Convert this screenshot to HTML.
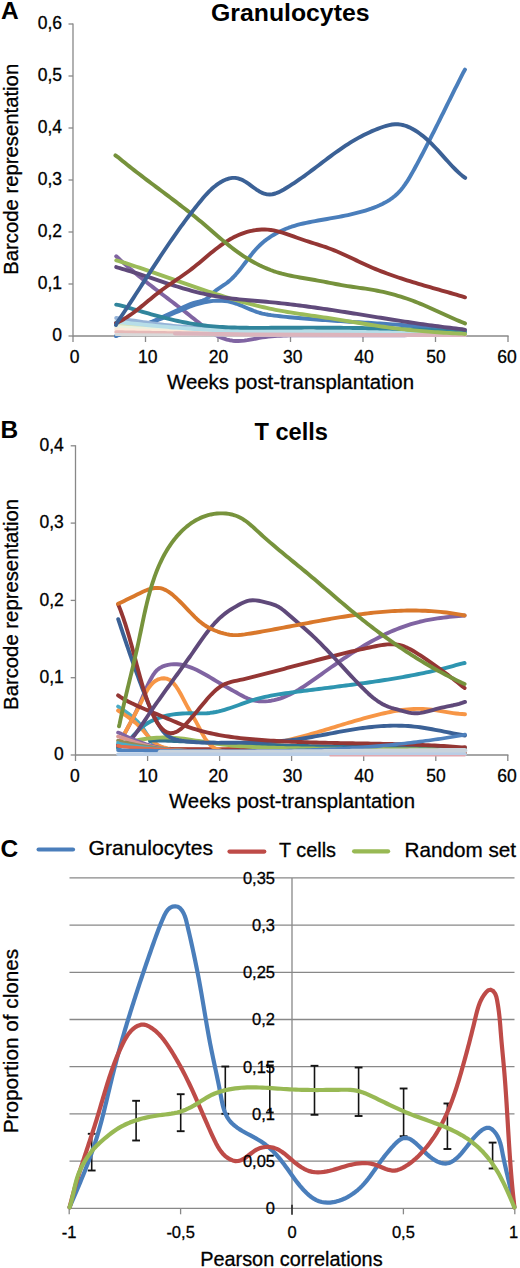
<!DOCTYPE html>
<html><head><meta charset="utf-8"><style>
html,body{margin:0;padding:0;background:#fff;}
svg{display:block;}
text{font-family:"Liberation Sans", sans-serif; fill:#000;}
text.r{stroke:#000;stroke-width:0.3px;}
</style></head><body>
<svg width="520" height="1268" viewBox="0 0 520 1268">
<rect width="520" height="1268" fill="#fff"/>
<text x="1.0" y="19.4" font-size="24.5" text-anchor="start" font-weight="bold">A</text>
<text x="211.0" y="21.0" font-size="23.5" text-anchor="start" font-weight="bold" textLength="158.5" lengthAdjust="spacingAndGlyphs">Granulocytes</text>
<line x1="73.0" y1="23.4" x2="73.0" y2="336.6" stroke="#888888" stroke-width="1.30"/>
<line x1="68.5" y1="336.0" x2="73.0" y2="336.0" stroke="#888888" stroke-width="1.30"/>
<text class="r" x="62.0" y="341.1" font-size="17.5" text-anchor="end" font-weight="normal">0</text>
<line x1="68.5" y1="284.0" x2="73.0" y2="284.0" stroke="#888888" stroke-width="1.30"/>
<text class="r" x="62.0" y="289.1" font-size="17.5" text-anchor="end" font-weight="normal">0,1</text>
<line x1="68.5" y1="232.0" x2="73.0" y2="232.0" stroke="#888888" stroke-width="1.30"/>
<text class="r" x="62.0" y="237.1" font-size="17.5" text-anchor="end" font-weight="normal">0,2</text>
<line x1="68.5" y1="180.0" x2="73.0" y2="180.0" stroke="#888888" stroke-width="1.30"/>
<text class="r" x="62.0" y="185.1" font-size="17.5" text-anchor="end" font-weight="normal">0,3</text>
<line x1="68.5" y1="128.0" x2="73.0" y2="128.0" stroke="#888888" stroke-width="1.30"/>
<text class="r" x="62.0" y="133.1" font-size="17.5" text-anchor="end" font-weight="normal">0,4</text>
<line x1="68.5" y1="76.0" x2="73.0" y2="76.0" stroke="#888888" stroke-width="1.30"/>
<text class="r" x="62.0" y="81.1" font-size="17.5" text-anchor="end" font-weight="normal">0,5</text>
<line x1="68.5" y1="24.0" x2="73.0" y2="24.0" stroke="#888888" stroke-width="1.30"/>
<text class="r" x="62.0" y="29.1" font-size="17.5" text-anchor="end" font-weight="normal">0,6</text>
<line x1="73.0" y1="336.0" x2="508.6" y2="336.0" stroke="#888888" stroke-width="1.30"/>
<line x1="73.0" y1="336.0" x2="73.0" y2="342.0" stroke="#888888" stroke-width="1.30"/>
<text class="r" x="74.5" y="362.7" font-size="17.5" text-anchor="middle" font-weight="normal">0</text>
<line x1="145.5" y1="336.0" x2="145.5" y2="342.0" stroke="#888888" stroke-width="1.30"/>
<text class="r" x="147.7" y="362.7" font-size="17.5" text-anchor="middle" font-weight="normal">10</text>
<line x1="218.0" y1="336.0" x2="218.0" y2="342.0" stroke="#888888" stroke-width="1.30"/>
<text class="r" x="218.5" y="362.7" font-size="17.5" text-anchor="middle" font-weight="normal">20</text>
<line x1="290.5" y1="336.0" x2="290.5" y2="342.0" stroke="#888888" stroke-width="1.30"/>
<text class="r" x="292.7" y="362.7" font-size="17.5" text-anchor="middle" font-weight="normal">30</text>
<line x1="363.0" y1="336.0" x2="363.0" y2="342.0" stroke="#888888" stroke-width="1.30"/>
<text class="r" x="364.0" y="362.7" font-size="17.5" text-anchor="middle" font-weight="normal">40</text>
<line x1="435.5" y1="336.0" x2="435.5" y2="342.0" stroke="#888888" stroke-width="1.30"/>
<text class="r" x="435.9" y="362.7" font-size="17.5" text-anchor="middle" font-weight="normal">50</text>
<line x1="508.0" y1="336.0" x2="508.0" y2="342.0" stroke="#888888" stroke-width="1.30"/>
<text class="r" x="507.0" y="362.7" font-size="17.5" text-anchor="middle" font-weight="normal">60</text>
<text class="r" x="290.5" y="388.5" font-size="20.5" text-anchor="middle" font-weight="normal" textLength="247.0" lengthAdjust="spacingAndGlyphs">Weeks post-transplantation</text>
<text class="r" transform="translate(17.6,169.3) rotate(-90)" font-size="20" text-anchor="middle" textLength="211" lengthAdjust="spacingAndGlyphs">Barcode representation</text>
<text x="0.5" y="437.7" font-size="24.5" text-anchor="start" font-weight="bold">B</text>
<text x="254.5" y="439.6" font-size="23.5" text-anchor="start" font-weight="bold" textLength="73.5" lengthAdjust="spacingAndGlyphs">T cells</text>
<line x1="75.5" y1="445.2" x2="75.5" y2="755.6" stroke="#888888" stroke-width="1.30"/>
<line x1="70.7" y1="755.0" x2="75.5" y2="755.0" stroke="#888888" stroke-width="1.30"/>
<text class="r" x="63.8" y="760.3" font-size="17.5" text-anchor="end" font-weight="normal">0</text>
<line x1="70.7" y1="677.7" x2="75.5" y2="677.7" stroke="#888888" stroke-width="1.30"/>
<text class="r" x="63.8" y="683.0" font-size="17.5" text-anchor="end" font-weight="normal">0,1</text>
<line x1="70.7" y1="600.4" x2="75.5" y2="600.4" stroke="#888888" stroke-width="1.30"/>
<text class="r" x="63.8" y="605.7" font-size="17.5" text-anchor="end" font-weight="normal">0,2</text>
<line x1="70.7" y1="523.1" x2="75.5" y2="523.1" stroke="#888888" stroke-width="1.30"/>
<text class="r" x="63.8" y="528.4" font-size="17.5" text-anchor="end" font-weight="normal">0,3</text>
<line x1="70.7" y1="445.8" x2="75.5" y2="445.8" stroke="#888888" stroke-width="1.30"/>
<text class="r" x="63.8" y="451.1" font-size="17.5" text-anchor="end" font-weight="normal">0,4</text>
<line x1="75.5" y1="755.0" x2="508.4" y2="755.0" stroke="#888888" stroke-width="1.30"/>
<line x1="75.5" y1="755.0" x2="75.5" y2="761.0" stroke="#888888" stroke-width="1.30"/>
<text class="r" x="74.9" y="782.0" font-size="17.5" text-anchor="middle" font-weight="normal">0</text>
<line x1="147.6" y1="755.0" x2="147.6" y2="761.0" stroke="#888888" stroke-width="1.30"/>
<text class="r" x="148.0" y="782.0" font-size="17.5" text-anchor="middle" font-weight="normal">10</text>
<line x1="219.6" y1="755.0" x2="219.6" y2="761.0" stroke="#888888" stroke-width="1.30"/>
<text class="r" x="218.3" y="782.0" font-size="17.5" text-anchor="middle" font-weight="normal">20</text>
<line x1="291.6" y1="755.0" x2="291.6" y2="761.0" stroke="#888888" stroke-width="1.30"/>
<text class="r" x="292.6" y="782.0" font-size="17.5" text-anchor="middle" font-weight="normal">30</text>
<line x1="363.7" y1="755.0" x2="363.7" y2="761.0" stroke="#888888" stroke-width="1.30"/>
<text class="r" x="364.0" y="782.0" font-size="17.5" text-anchor="middle" font-weight="normal">40</text>
<line x1="435.8" y1="755.0" x2="435.8" y2="761.0" stroke="#888888" stroke-width="1.30"/>
<text class="r" x="436.0" y="782.0" font-size="17.5" text-anchor="middle" font-weight="normal">50</text>
<line x1="507.8" y1="755.0" x2="507.8" y2="761.0" stroke="#888888" stroke-width="1.30"/>
<text class="r" x="507.0" y="782.0" font-size="17.5" text-anchor="middle" font-weight="normal">60</text>
<text class="r" x="292.0" y="807.5" font-size="20.5" text-anchor="middle" font-weight="normal" textLength="246.0" lengthAdjust="spacingAndGlyphs">Weeks post-transplantation</text>
<text class="r" transform="translate(17.6,604.4) rotate(-90)" font-size="20" text-anchor="middle" textLength="211" lengthAdjust="spacingAndGlyphs">Barcode representation</text>
<text x="0.5" y="857.0" font-size="24.5" text-anchor="start" font-weight="bold">C</text>
<line x1="38.6" y1="849.5" x2="73" y2="849.5" stroke="#4a7ebb" stroke-width="4.2" stroke-linecap="round"/>
<text class="r" x="88.5" y="854.6" font-size="21.0" text-anchor="start" font-weight="normal" textLength="124.5" lengthAdjust="spacingAndGlyphs">Granulocytes</text>
<line x1="229.5" y1="851.6" x2="264.3" y2="851.6" stroke="#be4b48" stroke-width="4.2" stroke-linecap="round"/>
<text class="r" x="279.0" y="856.9" font-size="21.0" text-anchor="start" font-weight="normal" textLength="57.0" lengthAdjust="spacingAndGlyphs">T cells</text>
<line x1="354.1" y1="851.3" x2="388.1" y2="851.3" stroke="#98b954" stroke-width="4.2" stroke-linecap="round"/>
<text class="r" x="404.5" y="856.9" font-size="21.0" text-anchor="start" font-weight="normal" textLength="111.5" lengthAdjust="spacingAndGlyphs">Random set</text>
<line x1="69.5" y1="1161.1" x2="514.5" y2="1161.1" stroke="#888888" stroke-width="1.30"/>
<line x1="69.5" y1="1113.9" x2="514.5" y2="1113.9" stroke="#888888" stroke-width="1.30"/>
<line x1="69.5" y1="1066.7" x2="514.5" y2="1066.7" stroke="#888888" stroke-width="1.30"/>
<line x1="69.5" y1="1019.5" x2="514.5" y2="1019.5" stroke="#888888" stroke-width="1.30"/>
<line x1="69.5" y1="972.3" x2="514.5" y2="972.3" stroke="#888888" stroke-width="1.30"/>
<line x1="69.5" y1="925.1" x2="514.5" y2="925.1" stroke="#888888" stroke-width="1.30"/>
<line x1="69.5" y1="877.9" x2="514.5" y2="877.9" stroke="#888888" stroke-width="1.30"/>
<line x1="69.2" y1="1208.3" x2="514.7" y2="1208.3" stroke="#888888" stroke-width="1.30"/>
<line x1="292.0" y1="877.9" x2="292.0" y2="1208.3" stroke="#888888" stroke-width="1.30"/>
<line x1="69.2" y1="1208.3" x2="69.2" y2="1214.3" stroke="#888888" stroke-width="1.30"/>
<line x1="180.6" y1="1208.3" x2="180.6" y2="1214.3" stroke="#888888" stroke-width="1.30"/>
<line x1="403.4" y1="1208.3" x2="403.4" y2="1214.3" stroke="#888888" stroke-width="1.30"/>
<line x1="514.8" y1="1208.3" x2="514.8" y2="1214.3" stroke="#888888" stroke-width="1.30"/>
<line x1="292.0" y1="1204.8" x2="292.0" y2="1214.8" stroke="#222" stroke-width="1.60"/>
<text class="r" x="69.2" y="1237.5" font-size="16.5" text-anchor="middle" font-weight="normal">-1</text>
<text class="r" x="180.6" y="1237.5" font-size="16.5" text-anchor="middle" font-weight="normal">-0,5</text>
<text class="r" x="292.0" y="1237.5" font-size="16.5" text-anchor="middle" font-weight="normal">0</text>
<text class="r" x="403.4" y="1237.5" font-size="16.5" text-anchor="middle" font-weight="normal">0,5</text>
<text class="r" x="513.5" y="1237.5" font-size="16.5" text-anchor="middle" font-weight="normal">1</text>
<text class="r" x="291.4" y="1265.8" font-size="20.5" text-anchor="middle" font-weight="normal" textLength="182.5" lengthAdjust="spacingAndGlyphs">Pearson correlations</text>
<text class="r" transform="translate(17.6,1041) rotate(-90)" font-size="20" text-anchor="middle" textLength="184.5" lengthAdjust="spacingAndGlyphs">Proportion of clones</text>
<path d="M116.20,256.20 L118.42,258.24 L120.65,260.32 L122.89,262.38 L125.15,264.41 L127.42,266.41 L129.70,268.40 L132.01,270.36 L134.32,272.31 L136.64,274.24 L138.98,276.15 L141.33,278.05 L143.69,279.94 L146.05,281.81 L148.42,283.67 L150.81,285.53 L153.19,287.37 L155.58,289.21 L157.98,291.04 L160.38,292.87 L162.78,294.70 L165.19,296.53 L167.60,298.35 L170.00,300.18 L172.41,302.01 L174.81,303.85 L177.22,305.69 L179.62,307.53 L182.01,309.39 L184.40,311.26 L186.79,313.13 L189.17,315.02 L191.54,316.92 L193.92,318.83 L196.29,320.73 L198.68,322.62 L201.08,324.51 L203.49,326.37 L205.93,328.21 L208.39,330.01 L210.88,331.77 L213.41,333.44 L215.98,335.00 L218.61,336.41 L221.30,337.65 L224.05,338.69 L226.85,339.55 L229.69,340.22 L232.58,340.69 L235.49,340.96 L238.44,341.03 L241.40,340.90 L244.38,340.59 L247.37,340.16 L250.37,339.63 L253.38,339.05 L256.39,338.47 L259.40,337.92 L262.42,337.44 L265.43,337.02 L268.44,336.66 L271.46,336.35 L274.47,336.09 L277.48,335.88 L280.49,335.71 L283.51,335.57 L286.52,335.47 L289.53,335.39 L292.55,335.34 L295.57,335.30 L298.58,335.28 L301.60,335.27 L304.62,335.26 L307.64,335.26 L310.66,335.26 L313.69,335.26 L316.71,335.26 L319.74,335.27 L322.76,335.27 L325.79,335.28 L328.82,335.29 L331.85,335.30 L334.88,335.30 L337.91,335.31 L340.93,335.32 L343.96,335.33 L346.99,335.33 L350.02,335.34 L353.05,335.34 L356.08,335.35 L359.11,335.35 L362.14,335.34 L365.16,335.34 L368.19,335.34 L371.22,335.33 L374.24,335.32 L377.27,335.31 L380.29,335.30 L383.32,335.29 L386.34,335.27 L389.37,335.26 L392.39,335.24 L395.42,335.23 L398.44,335.21 L401.47,335.20 L404.49,335.18 L407.51,335.16 L410.54,335.15 L413.56,335.13 L416.59,335.12 L419.61,335.10 L422.63,335.09 L425.66,335.07 L428.68,335.06 L431.71,335.05 L434.73,335.04 L437.76,335.03 L440.79,335.02 L443.81,335.02 L446.84,335.01 L449.86,335.01 L452.89,335.01 L455.92,335.01 L458.95,335.02 L461.98,335.02 L465.00,335.00" fill="none" stroke="#8064a2" stroke-width="3.90" stroke-linecap="round" stroke-linejoin="round"/>
<path d="M116.00,336.00 L118.81,334.77 L121.63,333.56 L124.46,332.39 L127.29,331.27 L130.12,330.18 L132.96,329.11 L135.80,328.07 L138.64,327.04 L141.48,326.01 L144.32,325.00 L147.16,323.97 L150.00,322.94 L152.83,321.90 L155.67,320.83 L158.49,319.73 L161.32,318.60 L164.14,317.44 L166.95,316.24 L169.77,315.02 L172.58,313.79 L175.40,312.56 L178.22,311.34 L181.05,310.14 L183.89,308.96 L186.74,307.82 L189.60,306.73 L192.48,305.70 L195.38,304.74 L198.29,303.85 L201.23,303.05 L204.18,302.35 L207.14,301.75 L210.12,301.27 L213.09,300.92 L216.07,300.71 L219.04,300.64 L222.01,300.73 L224.96,300.98 L227.89,301.42 L230.81,302.03 L233.70,302.83 L236.57,303.78 L239.43,304.85 L242.27,306.00 L245.10,307.20 L247.93,308.42 L250.77,309.62 L253.61,310.77 L256.48,311.82 L259.37,312.75 L262.29,313.54 L265.24,314.19 L268.21,314.73 L271.20,315.19 L274.20,315.58 L277.20,315.93 L280.21,316.27 L283.23,316.59 L286.24,316.90 L289.26,317.20 L292.27,317.49 L295.29,317.77 L298.31,318.04 L301.34,318.30 L304.36,318.56 L307.38,318.81 L310.41,319.05 L313.44,319.28 L316.47,319.51 L319.49,319.73 L322.53,319.95 L325.56,320.16 L328.59,320.36 L331.62,320.57 L334.66,320.76 L337.69,320.96 L340.73,321.15 L343.76,321.34 L346.80,321.53 L349.84,321.71 L352.87,321.90 L355.91,322.08 L358.95,322.26 L361.99,322.45 L365.02,322.63 L368.06,322.81 L371.10,323.00 L374.14,323.18 L377.18,323.37 L380.21,323.56 L383.25,323.76 L386.29,323.96 L389.33,324.16 L392.36,324.36 L395.40,324.57 L398.43,324.79 L401.47,325.01 L404.50,325.23 L407.53,325.46 L410.57,325.70 L413.60,325.95 L416.63,326.20 L419.66,326.46 L422.69,326.73 L425.71,327.01 L428.74,327.30 L431.77,327.59 L434.79,327.90 L437.81,328.22 L440.83,328.54 L443.85,328.88 L446.87,329.23 L449.88,329.60 L452.90,329.97 L455.91,330.36 L458.92,330.76 L461.93,331.18 L465.00,331.20" fill="none" stroke="#4a7ebb" stroke-width="3.90" stroke-linecap="round" stroke-linejoin="round"/>
<path d="M116.00,336.00 L118.81,334.90 L121.63,333.81 L124.45,332.72 L127.27,331.63 L130.08,330.53 L132.89,329.42 L135.70,328.31 L138.50,327.19 L141.30,326.06 L144.10,324.93 L146.89,323.78 L149.68,322.62 L152.46,321.45 L155.24,320.26 L158.01,319.07 L160.77,317.85 L163.53,316.63 L166.28,315.38 L169.03,314.12 L171.76,312.84 L174.50,311.55 L177.22,310.23 L179.93,308.89 L182.64,307.55 L185.37,306.23 L188.13,304.99 L190.94,303.88 L193.83,302.94 L196.79,302.19 L199.76,301.49 L202.64,300.66 L205.33,299.52 L207.77,297.93 L210.01,295.97 L212.17,293.83 L214.38,291.72 L216.74,289.79 L219.24,288.05 L221.80,286.40 L224.34,284.74 L226.80,282.99 L229.13,281.11 L231.36,279.12 L233.49,277.01 L235.54,274.82 L237.52,272.55 L239.45,270.22 L241.33,267.84 L243.18,265.43 L245.02,263.00 L246.85,260.56 L248.68,258.13 L250.54,255.72 L252.43,253.35 L254.37,251.03 L256.37,248.77 L258.44,246.59 L260.59,244.50 L262.83,242.51 L265.14,240.61 L267.53,238.81 L270.00,237.10 L272.53,235.48 L275.11,233.96 L277.76,232.52 L280.45,231.18 L283.19,229.93 L285.97,228.78 L288.78,227.71 L291.62,226.72 L294.50,225.82 L297.39,224.99 L300.31,224.22 L303.25,223.51 L306.21,222.85 L309.17,222.23 L312.15,221.64 L315.14,221.08 L318.13,220.54 L321.12,220.01 L324.11,219.49 L327.10,218.97 L330.09,218.44 L333.08,217.92 L336.06,217.38 L339.04,216.82 L342.01,216.25 L344.97,215.66 L347.93,215.04 L350.88,214.38 L353.82,213.70 L356.75,212.97 L359.66,212.20 L362.56,211.39 L365.45,210.52 L368.33,209.60 L371.19,208.62 L374.03,207.57 L376.84,206.46 L379.61,205.26 L382.33,203.98 L384.99,202.60 L387.58,201.12 L390.09,199.53 L392.51,197.82 L394.82,195.99 L397.02,194.02 L399.11,191.92 L401.08,189.70 L402.96,187.38 L404.75,184.95 L406.46,182.45 L408.11,179.88 L409.70,177.26 L411.24,174.60 L412.75,171.91 L414.24,169.21 L415.70,166.51 L417.16,163.81 L418.61,161.11 L420.04,158.42 L421.46,155.73 L422.87,153.04 L424.27,150.35 L425.67,147.66 L427.05,144.98 L428.43,142.29 L429.80,139.61 L431.16,136.92 L432.52,134.24 L433.87,131.55 L435.21,128.87 L436.56,126.19 L437.90,123.50 L439.23,120.82 L440.56,118.13 L441.90,115.44 L443.23,112.76 L444.56,110.07 L445.89,107.38 L447.22,104.69 L448.55,101.99 L449.89,99.30 L451.23,96.60 L452.57,93.90 L453.91,91.19 L455.26,88.49 L456.62,85.78 L457.98,83.06 L459.34,80.35 L460.72,77.63 L462.10,74.91 L463.49,72.18 L465.00,69.60" fill="none" stroke="#4a7ebb" stroke-width="3.90" stroke-linecap="round" stroke-linejoin="round"/>
<path d="M116.20,318.00 L119.21,318.32 L122.21,318.84 L125.22,319.34 L128.23,319.84 L131.23,320.32 L134.24,320.79 L137.25,321.25 L140.26,321.69 L143.28,322.12 L146.29,322.55 L149.30,322.95 L152.32,323.35 L155.33,323.74 L158.35,324.11 L161.37,324.48 L164.38,324.83 L167.40,325.17 L170.42,325.51 L173.44,325.83 L176.46,326.14 L179.48,326.44 L182.51,326.73 L185.53,327.02 L188.55,327.29 L191.58,327.55 L194.60,327.81 L197.63,328.05 L200.66,328.29 L203.68,328.52 L206.71,328.73 L209.74,328.94 L212.77,329.15 L215.80,329.34 L218.83,329.53 L221.86,329.71 L224.89,329.88 L227.92,330.04 L230.96,330.20 L233.99,330.35 L237.02,330.49 L240.06,330.63 L243.09,330.76 L246.13,330.88 L249.16,331.00 L252.20,331.11 L255.23,331.22 L258.27,331.32 L261.31,331.41 L264.34,331.50 L267.38,331.58 L270.42,331.66 L273.46,331.73 L276.50,331.80 L279.54,331.87 L282.58,331.93 L285.62,331.98 L288.66,332.04 L291.70,332.08 L294.74,332.13 L297.78,332.17 L300.82,332.21 L303.86,332.24 L306.90,332.27 L309.94,332.30 L312.98,332.33 L316.02,332.35 L319.07,332.37 L322.11,332.39 L325.15,332.41 L328.19,332.42 L331.23,332.43 L334.28,332.45 L337.32,332.46 L340.36,332.46 L343.40,332.47 L346.45,332.48 L349.49,332.49 L352.53,332.49 L355.57,332.50 L358.61,332.50 L361.66,332.51 L364.70,332.51 L367.74,332.52 L370.78,332.53 L373.82,332.53 L376.87,332.54 L379.91,332.55 L382.95,332.56 L385.99,332.57 L389.03,332.58 L392.07,332.60 L395.11,332.61 L398.15,332.63 L401.19,332.65 L404.23,332.67 L407.27,332.70 L410.31,332.72 L413.35,332.75 L416.39,332.79 L419.43,332.82 L422.47,332.86 L425.51,332.91 L428.54,332.95 L431.58,333.00 L434.62,333.06 L437.65,333.12 L440.69,333.18 L443.73,333.25 L446.76,333.32 L449.79,333.40 L452.83,333.48 L455.86,333.57 L458.90,333.66 L461.93,333.76 L465.00,333.50" fill="none" stroke="#95b3d7" stroke-width="3.90" stroke-linecap="round" stroke-linejoin="round"/>
<path d="M116.00,324.50 L119.03,324.64 L122.06,324.89 L125.08,325.13 L128.11,325.37 L131.14,325.60 L134.17,325.83 L137.20,326.06 L140.23,326.27 L143.26,326.49 L146.29,326.69 L149.32,326.90 L152.35,327.09 L155.38,327.29 L158.42,327.47 L161.45,327.66 L164.48,327.84 L167.51,328.01 L170.54,328.18 L173.57,328.34 L176.61,328.50 L179.64,328.66 L182.67,328.81 L185.70,328.96 L188.74,329.10 L191.77,329.24 L194.80,329.37 L197.83,329.50 L200.87,329.63 L203.90,329.75 L206.93,329.87 L209.97,329.99 L213.00,330.10 L216.04,330.21 L219.07,330.31 L222.10,330.41 L225.14,330.51 L228.17,330.61 L231.21,330.70 L234.24,330.79 L237.28,330.87 L240.31,330.95 L243.35,331.03 L246.38,331.11 L249.42,331.18 L252.45,331.25 L255.49,331.32 L258.52,331.39 L261.56,331.45 L264.59,331.51 L267.63,331.57 L270.67,331.63 L273.70,331.68 L276.74,331.73 L279.77,331.78 L282.81,331.83 L285.85,331.87 L288.88,331.92 L291.92,331.96 L294.95,332.00 L297.99,332.04 L301.03,332.08 L304.06,332.11 L307.10,332.14 L310.14,332.18 L313.17,332.21 L316.21,332.24 L319.25,332.27 L322.28,332.29 L325.32,332.32 L328.36,332.35 L331.39,332.37 L334.43,332.39 L337.47,332.42 L340.50,332.44 L343.54,332.46 L346.58,332.48 L349.61,332.50 L352.65,332.52 L355.69,332.54 L358.73,332.56 L361.76,332.58 L364.80,332.60 L367.84,332.62 L370.87,332.64 L373.91,332.66 L376.95,332.67 L379.98,332.69 L383.02,332.71 L386.06,332.73 L389.09,332.75 L392.13,332.77 L395.17,332.79 L398.20,332.82 L401.24,332.84 L404.28,332.86 L407.31,332.89 L410.35,332.91 L413.39,332.94 L416.42,332.96 L419.46,332.99 L422.49,333.02 L425.53,333.05 L428.57,333.08 L431.60,333.11 L434.64,333.15 L437.67,333.18 L440.71,333.22 L443.75,333.26 L446.78,333.30 L449.82,333.34 L452.85,333.39 L455.89,333.43 L458.92,333.48 L461.96,333.53 L465.00,333.50" fill="none" stroke="#d7e4bd" stroke-width="3.50" stroke-linecap="round" stroke-linejoin="round"/>
<path d="M116.00,327.00 L119.03,327.06 L122.06,327.25 L125.09,327.44 L128.13,327.63 L131.16,327.81 L134.19,327.99 L137.22,328.16 L140.25,328.33 L143.28,328.50 L146.32,328.66 L149.35,328.82 L152.38,328.97 L155.41,329.12 L158.45,329.27 L161.48,329.41 L164.51,329.55 L167.54,329.69 L170.58,329.82 L173.61,329.95 L176.64,330.08 L179.68,330.20 L182.71,330.32 L185.74,330.43 L188.78,330.55 L191.81,330.65 L194.84,330.76 L197.88,330.86 L200.91,330.96 L203.95,331.06 L206.98,331.15 L210.01,331.25 L213.05,331.33 L216.08,331.42 L219.12,331.50 L222.15,331.58 L225.19,331.66 L228.22,331.74 L231.26,331.81 L234.29,331.88 L237.32,331.95 L240.36,332.02 L243.39,332.08 L246.43,332.14 L249.46,332.20 L252.50,332.26 L255.53,332.31 L258.57,332.36 L261.60,332.41 L264.64,332.46 L267.67,332.51 L270.71,332.56 L273.75,332.60 L276.78,332.64 L279.82,332.68 L282.85,332.72 L285.89,332.76 L288.92,332.79 L291.96,332.83 L294.99,332.86 L298.03,332.89 L301.07,332.92 L304.10,332.95 L307.14,332.98 L310.17,333.00 L313.21,333.03 L316.24,333.05 L319.28,333.08 L322.32,333.10 L325.35,333.12 L328.39,333.14 L331.42,333.16 L334.46,333.18 L337.50,333.20 L340.53,333.22 L343.57,333.23 L346.60,333.25 L349.64,333.27 L352.68,333.28 L355.71,333.30 L358.75,333.31 L361.78,333.33 L364.82,333.34 L367.86,333.36 L370.89,333.37 L373.93,333.39 L376.96,333.40 L380.00,333.42 L383.04,333.43 L386.07,333.44 L389.11,333.46 L392.14,333.47 L395.18,333.49 L398.21,333.51 L401.25,333.52 L404.29,333.54 L407.32,333.55 L410.36,333.57 L413.39,333.59 L416.43,333.61 L419.47,333.63 L422.50,333.65 L425.54,333.67 L428.57,333.69 L431.61,333.72 L434.64,333.74 L437.68,333.76 L440.71,333.79 L443.75,333.82 L446.79,333.84 L449.82,333.87 L452.86,333.91 L455.89,333.94 L458.93,333.97 L461.96,334.01 L465.00,334.00" fill="none" stroke="#ebf1de" stroke-width="3.50" stroke-linecap="round" stroke-linejoin="round"/>
<path d="M116.00,329.50 L119.03,329.48 L122.07,329.62 L125.10,329.76 L128.13,329.89 L131.17,330.02 L134.20,330.15 L137.23,330.27 L140.27,330.39 L143.30,330.51 L146.33,330.63 L149.37,330.74 L152.40,330.85 L155.44,330.96 L158.47,331.07 L161.50,331.17 L164.54,331.27 L167.57,331.37 L170.60,331.46 L173.64,331.56 L176.67,331.65 L179.71,331.74 L182.74,331.82 L185.77,331.91 L188.81,331.99 L191.84,332.07 L194.88,332.15 L197.91,332.22 L200.94,332.30 L203.98,332.37 L207.01,332.44 L210.05,332.51 L213.08,332.57 L216.12,332.63 L219.15,332.70 L222.19,332.76 L225.22,332.81 L228.25,332.87 L231.29,332.92 L234.32,332.98 L237.36,333.03 L240.39,333.08 L243.43,333.12 L246.46,333.17 L249.50,333.21 L252.53,333.26 L255.57,333.30 L258.60,333.34 L261.64,333.38 L264.67,333.42 L267.71,333.45 L270.74,333.49 L273.78,333.52 L276.81,333.55 L279.85,333.58 L282.88,333.61 L285.92,333.64 L288.95,333.67 L291.99,333.69 L295.02,333.72 L298.06,333.74 L301.09,333.77 L304.13,333.79 L307.16,333.81 L310.20,333.83 L313.23,333.85 L316.27,333.87 L319.30,333.89 L322.34,333.91 L325.38,333.92 L328.41,333.94 L331.45,333.95 L334.48,333.97 L337.52,333.98 L340.55,334.00 L343.59,334.01 L346.62,334.02 L349.66,334.03 L352.69,334.04 L355.73,334.06 L358.76,334.07 L361.80,334.08 L364.83,334.09 L367.87,334.10 L370.91,334.11 L373.94,334.12 L376.98,334.13 L380.01,334.14 L383.05,334.15 L386.08,334.16 L389.12,334.17 L392.15,334.18 L395.19,334.18 L398.22,334.19 L401.26,334.20 L404.29,334.21 L407.33,334.22 L410.37,334.23 L413.40,334.25 L416.44,334.26 L419.47,334.27 L422.51,334.28 L425.54,334.29 L428.58,334.30 L431.61,334.32 L434.65,334.33 L437.68,334.34 L440.72,334.36 L443.75,334.37 L446.79,334.39 L449.82,334.40 L452.86,334.42 L455.89,334.44 L458.93,334.46 L461.96,334.48 L465.00,334.50" fill="none" stroke="#fde9d9" stroke-width="3.50" stroke-linecap="round" stroke-linejoin="round"/>
<path d="M116.00,332.00 L119.03,332.01 L122.07,332.07 L125.10,332.14 L128.14,332.20 L131.17,332.26 L134.21,332.32 L137.24,332.38 L140.28,332.44 L143.31,332.50 L146.34,332.55 L149.38,332.61 L152.41,332.66 L155.45,332.72 L158.48,332.77 L161.52,332.82 L164.55,332.87 L167.59,332.92 L170.62,332.96 L173.66,333.01 L176.69,333.05 L179.72,333.10 L182.76,333.14 L185.79,333.19 L188.83,333.23 L191.86,333.27 L194.90,333.31 L197.93,333.35 L200.97,333.39 L204.00,333.42 L207.04,333.46 L210.07,333.49 L213.11,333.53 L216.14,333.56 L219.18,333.60 L222.21,333.63 L225.24,333.66 L228.28,333.69 L231.31,333.72 L234.35,333.75 L237.38,333.78 L240.42,333.81 L243.45,333.84 L246.49,333.86 L249.52,333.89 L252.56,333.92 L255.59,333.94 L258.63,333.97 L261.66,333.99 L264.70,334.01 L267.73,334.03 L270.77,334.06 L273.80,334.08 L276.84,334.10 L279.87,334.12 L282.91,334.14 L285.94,334.16 L288.98,334.18 L292.01,334.20 L295.05,334.22 L298.08,334.23 L301.12,334.25 L304.15,334.27 L307.18,334.29 L310.22,334.30 L313.25,334.32 L316.29,334.33 L319.32,334.35 L322.36,334.36 L325.39,334.38 L328.43,334.39 L331.46,334.41 L334.50,334.42 L337.53,334.44 L340.57,334.45 L343.60,334.46 L346.64,334.48 L349.67,334.49 L352.71,334.50 L355.74,334.52 L358.78,334.53 L361.81,334.54 L364.85,334.55 L367.88,334.57 L370.92,334.58 L373.95,334.59 L376.99,334.60 L380.02,334.61 L383.06,334.63 L386.09,334.64 L389.13,334.65 L392.16,334.66 L395.20,334.68 L398.23,334.69 L401.27,334.70 L404.30,334.71 L407.34,334.73 L410.37,334.74 L413.41,334.75 L416.44,334.76 L419.48,334.78 L422.51,334.79 L425.55,334.80 L428.58,334.82 L431.62,334.83 L434.65,334.85 L437.69,334.86 L440.72,334.87 L443.76,334.89 L446.79,334.91 L449.83,334.92 L452.86,334.94 L455.90,334.95 L458.93,334.97 L461.97,334.99 L465.00,335.00" fill="none" stroke="#e6b9b8" stroke-width="3.50" stroke-linecap="round" stroke-linejoin="round"/>
<path d="M116.00,334.50 C135.67,334.67 147.89,334.86 175.00,335.00 C235.10,335.31 368.33,335.33 465.00,335.50" fill="none" stroke="#d9d9d9" stroke-width="3.00" stroke-linecap="round" stroke-linejoin="round"/>
<path d="M116.00,322.00 L119.04,321.94 L122.07,322.30 L125.09,322.65 L128.11,322.99 L131.14,323.33 L134.16,323.66 L137.19,323.99 L140.21,324.31 L143.23,324.63 L146.26,324.94 L149.28,325.24 L152.31,325.54 L155.33,325.83 L158.36,326.12 L161.39,326.40 L164.41,326.67 L167.44,326.93 L170.47,327.19 L173.49,327.44 L176.52,327.68 L179.55,327.91 L182.58,328.14 L185.60,328.36 L188.63,328.57 L191.66,328.77 L194.69,328.97 L197.72,329.16 L200.75,329.34 L203.78,329.51 L206.81,329.67 L209.85,329.83 L212.88,329.98 L215.91,330.12 L218.94,330.25 L221.97,330.38 L225.01,330.50 L228.04,330.61 L231.07,330.72 L234.11,330.82 L237.14,330.91 L240.18,331.00 L243.21,331.08 L246.25,331.16 L249.28,331.23 L252.32,331.29 L255.35,331.35 L258.39,331.41 L261.43,331.46 L264.46,331.51 L267.50,331.55 L270.53,331.59 L273.57,331.63 L276.61,331.66 L279.65,331.69 L282.68,331.71 L285.72,331.74 L288.76,331.76 L291.80,331.77 L294.84,331.79 L297.87,331.80 L300.91,331.81 L303.95,331.82 L306.99,331.82 L310.03,331.83 L313.07,331.83 L316.10,331.83 L319.14,331.83 L322.18,331.82 L325.22,331.82 L328.26,331.81 L331.30,331.81 L334.34,331.80 L337.38,331.79 L340.42,331.78 L343.46,331.77 L346.50,331.76 L349.54,331.75 L352.57,331.74 L355.61,331.73 L358.65,331.72 L361.69,331.70 L364.73,331.69 L367.77,331.68 L370.81,331.67 L373.85,331.66 L376.89,331.65 L379.93,331.65 L382.97,331.64 L386.01,331.63 L389.05,331.63 L392.09,331.62 L395.12,331.62 L398.16,331.62 L401.20,331.62 L404.24,331.62 L407.28,331.63 L410.32,331.63 L413.36,331.64 L416.40,331.65 L419.43,331.66 L422.47,331.68 L425.51,331.70 L428.55,331.72 L431.59,331.74 L434.62,331.77 L437.66,331.80 L440.70,331.83 L443.73,331.87 L446.77,331.91 L449.81,331.95 L452.84,332.00 L455.88,332.05 L458.92,332.10 L461.95,332.16 L465.00,332.00" fill="none" stroke="#b7dee8" stroke-width="3.90" stroke-linecap="round" stroke-linejoin="round"/>
<path d="M175.00,333.50 C200.00,333.83 218.56,334.25 250.00,334.50 C303.22,334.92 393.33,334.83 465.00,335.00" fill="none" stroke="#dcb4bc" stroke-width="4.00" stroke-linecap="round" stroke-linejoin="round"/>
<path d="M116.20,304.60 L119.17,305.07 L122.09,305.89 L125.01,306.72 L127.93,307.56 L130.85,308.41 L133.77,309.26 L136.69,310.11 L139.61,310.96 L142.53,311.80 L145.46,312.65 L148.39,313.48 L151.32,314.31 L154.25,315.12 L157.18,315.92 L160.12,316.71 L163.06,317.47 L166.00,318.22 L168.95,318.95 L171.90,319.65 L174.85,320.33 L177.81,320.99 L180.77,321.62 L183.73,322.22 L186.70,322.78 L189.67,323.32 L192.65,323.83 L195.63,324.29 L198.61,324.73 L201.60,325.12 L204.59,325.49 L207.59,325.82 L210.59,326.12 L213.59,326.39 L216.59,326.63 L219.60,326.85 L222.62,327.04 L225.63,327.20 L228.65,327.35 L231.67,327.47 L234.69,327.57 L237.71,327.66 L240.74,327.73 L243.77,327.78 L246.80,327.82 L249.83,327.85 L252.86,327.86 L255.89,327.87 L258.93,327.87 L261.96,327.86 L265.00,327.85 L268.03,327.83 L271.07,327.81 L274.10,327.79 L277.14,327.77 L280.17,327.76 L283.21,327.74 L286.24,327.72 L289.28,327.71 L292.31,327.70 L295.34,327.69 L298.38,327.68 L301.41,327.68 L304.44,327.67 L307.48,327.67 L310.51,327.67 L313.54,327.67 L316.57,327.68 L319.61,327.68 L322.64,327.69 L325.67,327.71 L328.70,327.72 L331.73,327.74 L334.76,327.76 L337.79,327.78 L340.83,327.81 L343.86,327.83 L346.89,327.87 L349.92,327.90 L352.95,327.94 L355.98,327.98 L359.01,328.02 L362.04,328.07 L365.07,328.12 L368.10,328.18 L371.12,328.24 L374.15,328.30 L377.18,328.36 L380.21,328.43 L383.24,328.51 L386.27,328.58 L389.30,328.67 L392.33,328.75 L395.36,328.84 L398.38,328.93 L401.41,329.03 L404.44,329.13 L407.47,329.24 L410.50,329.35 L413.52,329.47 L416.55,329.59 L419.58,329.71 L422.61,329.84 L425.64,329.98 L428.66,330.12 L431.69,330.26 L434.72,330.41 L437.75,330.57 L440.78,330.73 L443.80,330.89 L446.83,331.07 L449.86,331.24 L452.89,331.42 L455.92,331.61 L458.94,331.81 L461.97,332.00 L465.00,332.00" fill="none" stroke="#31859c" stroke-width="3.90" stroke-linecap="round" stroke-linejoin="round"/>
<path d="M116.20,260.40 L119.18,261.10 L122.06,262.02 L124.95,262.95 L127.83,263.88 L130.71,264.83 L133.58,265.78 L136.46,266.74 L139.33,267.71 L142.21,268.69 L145.08,269.67 L147.95,270.66 L150.82,271.65 L153.69,272.64 L156.56,273.64 L159.42,274.64 L162.29,275.65 L165.16,276.65 L168.03,277.66 L170.90,278.67 L173.77,279.67 L176.63,280.68 L179.50,281.68 L182.37,282.68 L185.24,283.68 L188.12,284.68 L190.99,285.67 L193.87,286.65 L196.74,287.64 L199.62,288.61 L202.50,289.58 L205.38,290.54 L208.26,291.49 L211.15,292.44 L214.04,293.37 L216.93,294.30 L219.82,295.21 L222.72,296.12 L225.61,297.01 L228.52,297.89 L231.42,298.76 L234.33,299.61 L237.24,300.45 L240.16,301.28 L243.08,302.09 L246.00,302.88 L248.93,303.66 L251.86,304.42 L254.79,305.16 L257.73,305.88 L260.68,306.58 L263.63,307.27 L266.58,307.93 L269.54,308.57 L272.50,309.19 L275.47,309.79 L278.45,310.37 L281.43,310.92 L284.42,311.45 L287.41,311.96 L290.40,312.45 L293.40,312.93 L296.40,313.40 L299.40,313.85 L302.41,314.30 L305.42,314.73 L308.43,315.16 L311.44,315.59 L314.45,316.02 L317.46,316.44 L320.47,316.87 L323.48,317.31 L326.49,317.74 L329.50,318.19 L332.50,318.65 L335.50,319.12 L338.50,319.59 L341.50,320.08 L344.50,320.56 L347.49,321.06 L350.49,321.55 L353.48,322.05 L356.47,322.54 L359.47,323.04 L362.46,323.53 L365.45,324.02 L368.44,324.50 L371.44,324.97 L374.43,325.44 L377.43,325.89 L380.42,326.34 L383.42,326.77 L386.42,327.19 L389.42,327.60 L392.43,327.99 L395.43,328.37 L398.44,328.73 L401.45,329.08 L404.46,329.42 L407.47,329.74 L410.49,330.05 L413.50,330.35 L416.52,330.64 L419.54,330.91 L422.56,331.17 L425.58,331.43 L428.61,331.66 L431.64,331.89 L434.66,332.11 L437.69,332.32 L440.73,332.51 L443.76,332.70 L446.79,332.88 L449.83,333.04 L452.87,333.20 L455.91,333.35 L458.95,333.49 L462.00,333.62 L465.00,334.00" fill="none" stroke="#9bbb59" stroke-width="3.90" stroke-linecap="round" stroke-linejoin="round"/>
<path d="M116.20,267.10 L119.11,267.99 L122.03,268.81 L124.93,269.65 L127.84,270.51 L130.74,271.40 L133.64,272.30 L136.54,273.21 L139.43,274.14 L142.32,275.09 L145.22,276.04 L148.11,277.00 L151.00,277.96 L153.89,278.93 L156.78,279.89 L159.67,280.86 L162.56,281.82 L165.46,282.78 L168.35,283.73 L171.25,284.67 L174.15,285.59 L177.05,286.51 L179.96,287.40 L182.87,288.28 L185.78,289.14 L188.70,289.97 L191.63,290.78 L194.55,291.56 L197.49,292.31 L200.43,293.03 L203.37,293.72 L206.33,294.38 L209.29,295.00 L212.25,295.59 L215.22,296.14 L218.20,296.65 L221.18,297.13 L224.17,297.57 L227.17,297.99 L230.17,298.37 L233.18,298.72 L236.19,299.05 L239.21,299.36 L242.23,299.65 L245.25,299.93 L248.27,300.19 L251.30,300.45 L254.33,300.71 L257.35,300.97 L260.38,301.24 L263.41,301.51 L266.43,301.78 L269.46,302.07 L272.48,302.37 L275.51,302.68 L278.53,303.00 L281.55,303.32 L284.57,303.66 L287.59,304.01 L290.60,304.37 L293.62,304.74 L296.63,305.11 L299.65,305.50 L302.66,305.89 L305.67,306.29 L308.68,306.70 L311.69,307.11 L314.70,307.54 L317.71,307.96 L320.71,308.40 L323.72,308.84 L326.73,309.28 L329.73,309.73 L332.73,310.19 L335.74,310.64 L338.74,311.11 L341.75,311.57 L344.75,312.04 L347.75,312.51 L350.75,312.99 L353.75,313.47 L356.76,313.94 L359.76,314.42 L362.76,314.91 L365.76,315.39 L368.76,315.87 L371.76,316.35 L374.76,316.84 L377.76,317.32 L380.77,317.80 L383.77,318.28 L386.77,318.76 L389.77,319.23 L392.77,319.71 L395.78,320.18 L398.78,320.65 L401.78,321.11 L404.79,321.57 L407.79,322.03 L410.80,322.48 L413.80,322.93 L416.81,323.37 L419.82,323.81 L422.82,324.24 L425.83,324.67 L428.84,325.09 L431.85,325.50 L434.86,325.91 L437.88,326.30 L440.89,326.69 L443.90,327.08 L446.92,327.45 L449.94,327.81 L452.95,328.17 L455.97,328.51 L458.99,328.85 L462.01,329.18 L465.00,329.80" fill="none" stroke="#604a7b" stroke-width="3.90" stroke-linecap="round" stroke-linejoin="round"/>
<path d="M116.00,323.00 L118.82,321.84 L121.48,320.44 L124.08,318.95 L126.64,317.38 L129.15,315.72 L131.62,314.00 L134.06,312.23 L136.47,310.40 L138.85,308.53 L141.22,306.63 L143.57,304.71 L145.91,302.77 L148.25,300.83 L150.60,298.89 L152.94,296.96 L155.31,295.05 L157.69,293.17 L160.09,291.33 L162.51,289.53 L164.96,287.76 L167.42,286.02 L169.89,284.30 L172.37,282.60 L174.86,280.90 L177.34,279.20 L179.83,277.49 L182.30,275.77 L184.77,274.03 L187.22,272.26 L189.65,270.46 L192.06,268.62 L194.44,266.74 L196.81,264.83 L199.16,262.89 L201.50,260.93 L203.83,258.96 L206.17,256.99 L208.51,255.03 L210.85,253.09 L213.22,251.16 L215.60,249.27 L218.00,247.42 L220.43,245.61 L222.89,243.86 L225.38,242.18 L227.92,240.57 L230.51,239.03 L233.14,237.59 L235.83,236.24 L238.57,234.99 L241.37,233.86 L244.20,232.84 L247.07,231.94 L249.98,231.17 L252.91,230.54 L255.86,230.05 L258.82,229.71 L261.80,229.53 L264.77,229.50 L267.75,229.64 L270.71,229.96 L273.67,230.44 L276.62,231.06 L279.56,231.80 L282.49,232.65 L285.41,233.58 L288.33,234.57 L291.24,235.60 L294.15,236.66 L297.06,237.72 L299.96,238.77 L302.86,239.77 L305.76,240.74 L308.65,241.67 L311.54,242.59 L314.42,243.49 L317.29,244.40 L320.15,245.31 L323.00,246.25 L325.84,247.22 L328.66,248.23 L331.47,249.29 L334.26,250.40 L337.05,251.56 L339.82,252.75 L342.58,253.98 L345.33,255.23 L348.08,256.50 L350.83,257.79 L353.58,259.08 L356.32,260.38 L359.07,261.68 L361.82,262.96 L364.57,264.24 L367.33,265.49 L370.10,266.72 L372.88,267.92 L375.68,269.08 L378.48,270.22 L381.28,271.33 L384.10,272.41 L386.93,273.47 L389.77,274.51 L392.61,275.52 L395.46,276.51 L398.32,277.48 L401.18,278.43 L404.05,279.36 L406.93,280.28 L409.81,281.18 L412.69,282.07 L415.58,282.95 L418.48,283.82 L421.38,284.67 L424.28,285.52 L427.18,286.36 L430.09,287.20 L433.00,288.03 L435.91,288.86 L438.82,289.68 L441.74,290.51 L444.65,291.34 L447.57,292.17 L450.48,293.00 L453.39,293.84 L456.31,294.68 L459.22,295.53 L462.13,296.39 L465.00,297.30" fill="none" stroke="#943634" stroke-width="3.90" stroke-linecap="round" stroke-linejoin="round"/>
<path d="M115.40,155.30 L117.85,157.07 L120.18,159.01 L122.52,160.94 L124.87,162.85 L127.23,164.75 L129.60,166.64 L131.98,168.51 L134.36,170.38 L136.75,172.23 L139.15,174.08 L141.55,175.92 L143.96,177.76 L146.37,179.59 L148.78,181.41 L151.20,183.23 L153.62,185.04 L156.04,186.86 L158.46,188.67 L160.88,190.48 L163.30,192.30 L165.72,194.11 L168.14,195.93 L170.55,197.75 L172.97,199.57 L175.38,201.40 L177.78,203.24 L180.18,205.08 L182.57,206.93 L184.96,208.78 L187.34,210.65 L189.72,212.53 L192.08,214.42 L194.44,216.32 L196.78,218.24 L199.12,220.16 L201.45,222.11 L203.76,224.07 L206.07,226.04 L208.37,228.02 L210.66,230.00 L212.95,231.99 L215.25,233.98 L217.54,235.96 L219.85,237.93 L222.16,239.88 L224.49,241.82 L226.83,243.74 L229.19,245.63 L231.57,247.50 L233.97,249.33 L236.39,251.13 L238.84,252.88 L241.33,254.60 L243.84,256.27 L246.38,257.89 L248.94,259.46 L251.54,260.98 L254.17,262.45 L256.82,263.86 L259.50,265.22 L262.21,266.51 L264.95,267.74 L267.71,268.91 L270.51,270.01 L273.33,271.04 L276.18,272.00 L279.06,272.88 L281.97,273.70 L284.90,274.44 L287.85,275.13 L290.82,275.77 L293.80,276.37 L296.80,276.94 L299.80,277.47 L302.81,277.99 L305.82,278.50 L308.83,279.00 L311.83,279.51 L314.83,280.03 L317.82,280.56 L320.80,281.12 L323.77,281.68 L326.73,282.25 L329.69,282.83 L332.65,283.40 L335.61,283.96 L338.56,284.52 L341.53,285.06 L344.49,285.58 L347.46,286.08 L350.45,286.54 L353.44,286.98 L356.43,287.40 L359.43,287.81 L362.44,288.22 L365.43,288.65 L368.43,289.11 L371.41,289.61 L374.39,290.14 L377.36,290.71 L380.32,291.32 L383.27,291.96 L386.22,292.64 L389.15,293.37 L392.07,294.13 L394.98,294.92 L397.88,295.76 L400.77,296.64 L403.65,297.55 L406.51,298.50 L409.37,299.50 L412.21,300.53 L415.04,301.60 L417.85,302.71 L420.65,303.86 L423.45,305.03 L426.23,306.24 L429.01,307.46 L431.78,308.70 L434.54,309.96 L437.30,311.22 L440.06,312.49 L442.82,313.75 L445.58,315.02 L448.34,316.27 L451.10,317.51 L453.87,318.73 L456.64,319.94 L459.42,321.11 L462.21,322.26 L465.00,323.40" fill="none" stroke="#76923c" stroke-width="3.90" stroke-linecap="round" stroke-linejoin="round"/>
<path d="M116.00,325.00 L117.30,322.26 L118.99,319.76 L120.68,317.25 L122.36,314.75 L124.03,312.23 L125.70,309.72 L127.36,307.20 L129.01,304.67 L130.67,302.14 L132.32,299.61 L133.96,297.08 L135.60,294.55 L137.25,292.01 L138.89,289.47 L140.52,286.94 L142.16,284.40 L143.80,281.86 L145.44,279.32 L147.08,276.78 L148.72,274.25 L150.36,271.71 L152.00,269.18 L153.65,266.65 L155.30,264.12 L156.96,261.59 L158.62,259.07 L160.28,256.55 L161.95,254.03 L163.63,251.52 L165.31,249.01 L167.00,246.51 L168.70,244.02 L170.41,241.52 L172.12,239.04 L173.84,236.56 L175.58,234.09 L177.32,231.63 L179.07,229.17 L180.84,226.72 L182.61,224.28 L184.40,221.85 L186.21,219.43 L188.02,217.01 L189.85,214.61 L191.69,212.22 L193.55,209.84 L195.42,207.46 L197.31,205.10 L199.21,202.75 L201.14,200.42 L203.08,198.10 L205.06,195.81 L207.09,193.58 L209.17,191.40 L211.34,189.31 L213.58,187.31 L215.93,185.42 L218.39,183.65 L220.98,182.02 L223.70,180.55 L226.53,179.30 L229.43,178.37 L232.33,177.86 L235.19,177.85 L237.99,178.36 L240.74,179.30 L243.44,180.60 L246.08,182.17 L248.70,183.94 L251.28,185.82 L253.85,187.71 L256.43,189.53 L259.01,191.20 L261.62,192.62 L264.26,193.71 L266.96,194.39 L269.71,194.56 L272.52,194.24 L275.37,193.49 L278.22,192.39 L281.07,191.02 L283.88,189.47 L286.64,187.79 L289.33,186.08 L291.92,184.40 L294.44,182.76 L296.90,181.12 L299.33,179.47 L301.76,177.77 L304.19,176.04 L306.61,174.28 L309.04,172.49 L311.46,170.68 L313.87,168.85 L316.29,167.02 L318.70,165.18 L321.11,163.35 L323.52,161.52 L325.93,159.70 L328.34,157.88 L330.76,156.09 L333.19,154.30 L335.63,152.54 L338.08,150.80 L340.55,149.07 L343.03,147.38 L345.53,145.71 L348.06,144.07 L350.61,142.47 L353.18,140.90 L355.78,139.37 L358.41,137.89 L361.07,136.44 L363.76,135.04 L366.48,133.69 L369.23,132.39 L372.01,131.15 L374.81,129.95 L377.64,128.82 L380.50,127.75 L383.38,126.74 L386.28,125.83 L389.19,125.07 L392.11,124.51 L395.03,124.21 L397.95,124.23 L400.85,124.58 L403.73,125.23 L406.57,126.16 L409.37,127.33 L412.12,128.70 L414.81,130.25 L417.43,131.94 L419.97,133.74 L422.42,135.61 L424.78,137.56 L427.07,139.56 L429.30,141.61 L431.46,143.70 L433.57,145.84 L435.65,148.01 L437.69,150.20 L439.70,152.41 L441.70,154.63 L443.70,156.86 L445.69,159.09 L447.70,161.31 L449.72,163.52 L451.77,165.71 L453.85,167.87 L455.98,170.00 L458.17,172.08 L460.41,174.12 L462.72,176.11 L465.20,177.90" fill="none" stroke="#3b6196" stroke-width="3.90" stroke-linecap="round" stroke-linejoin="round"/>
<path d="M118.10,706.50 L120.64,708.26 L123.17,710.01 L125.67,711.77 L128.11,713.56 L130.50,715.39 L132.82,717.30 L135.07,719.29 L137.22,721.38 L139.28,723.59 L141.23,725.94 L143.07,728.44 L144.83,731.06 L146.55,733.74 L148.26,736.47 L150.01,739.19 L151.82,741.84 L153.76,744.31 L155.86,746.47 L158.19,748.19 L160.77,749.38 L163.56,750.12 L166.49,750.56 L169.50,750.82 L172.54,751.03 L175.57,751.22 L178.60,751.40 L181.64,751.56 L184.67,751.70 L187.71,751.83 L190.75,751.95 L193.79,752.05 L196.83,752.14 L199.88,752.22 L202.92,752.28 L205.96,752.34 L209.01,752.39 L212.05,752.42 L215.10,752.45 L218.15,752.47 L221.20,752.48 L224.25,752.49 L227.29,752.49 L230.34,752.48 L233.39,752.47 L236.44,752.45 L239.49,752.43 L242.54,752.41 L245.60,752.38 L248.65,752.35 L251.70,752.32 L254.75,752.29 L257.80,752.26 L260.85,752.23 L263.90,752.20 L266.95,752.18 L270.00,752.15 L273.05,752.13 L276.10,752.11 L279.15,752.10 L282.20,752.08 L285.25,752.07 L288.30,752.06 L291.34,752.06 L294.39,752.05 L297.44,752.05 L300.49,752.05 L303.53,752.05 L306.58,752.05 L309.63,752.06 L312.68,752.06 L315.72,752.07 L318.77,752.08 L321.81,752.09 L324.86,752.10 L327.91,752.11 L330.95,752.12 L334.00,752.14 L337.04,752.15 L340.09,752.17 L343.13,752.18 L346.18,752.20 L349.23,752.22 L352.27,752.24 L355.32,752.26 L358.36,752.27 L361.41,752.29 L364.45,752.31 L367.50,752.33 L370.54,752.35 L373.59,752.37 L376.63,752.38 L379.68,752.40 L382.73,752.42 L385.77,752.43 L388.82,752.45 L391.86,752.46 L394.91,752.48 L397.95,752.49 L401.00,752.50 L404.05,752.51 L407.09,752.52 L410.14,752.53 L413.19,752.54 L416.23,752.55 L419.28,752.55 L422.33,752.55 L425.38,752.55 L428.42,752.55 L431.47,752.55 L434.52,752.54 L437.57,752.54 L440.62,752.53 L443.67,752.52 L446.71,752.50 L449.76,752.49 L452.81,752.47 L455.86,752.45 L458.91,752.42 L461.97,752.39 L465.00,752.50" fill="none" stroke="#4bacc6" stroke-width="3.90" stroke-linecap="round" stroke-linejoin="round"/>
<path d="M118.10,710.50 L120.71,712.17 L123.28,713.83 L125.79,715.50 L128.24,717.20 L130.64,718.94 L132.98,720.75 L135.27,722.63 L137.51,724.61 L139.68,726.70 L141.81,728.92 L143.89,731.26 L145.95,733.65 L148.02,736.05 L150.12,738.37 L152.27,740.58 L154.52,742.59 L156.87,744.35 L159.37,745.81 L162.00,746.94 L164.77,747.77 L167.64,748.37 L170.59,748.76 L173.60,749.00 L176.66,749.13 L179.74,749.19 L182.83,749.23 L185.89,749.28 L188.94,749.35 L191.97,749.43 L195.00,749.51 L198.02,749.57 L201.05,749.61 L204.07,749.62 L207.09,749.61 L210.12,749.58 L213.14,749.53 L216.16,749.45 L219.19,749.35 L222.21,749.23 L225.23,749.08 L228.25,748.90 L231.26,748.71 L234.28,748.49 L237.29,748.24 L240.30,747.97 L243.30,747.67 L246.31,747.35 L249.31,747.01 L252.31,746.64 L255.30,746.24 L258.29,745.82 L261.27,745.37 L264.26,744.89 L267.23,744.39 L270.21,743.87 L273.17,743.31 L276.14,742.73 L279.09,742.12 L282.04,741.49 L284.99,740.83 L287.93,740.14 L290.87,739.43 L293.80,738.70 L296.72,737.95 L299.65,737.18 L302.57,736.39 L305.48,735.59 L308.40,734.77 L311.31,733.94 L314.22,733.10 L317.12,732.25 L320.03,731.39 L322.93,730.52 L325.83,729.65 L328.74,728.77 L331.64,727.89 L334.54,727.01 L337.44,726.13 L340.34,725.25 L343.24,724.37 L346.15,723.50 L349.05,722.63 L351.96,721.78 L354.87,720.93 L357.78,720.09 L360.70,719.26 L363.61,718.45 L366.53,717.65 L369.46,716.87 L372.38,716.11 L375.32,715.37 L378.25,714.64 L381.20,713.94 L384.14,713.27 L387.09,712.62 L390.05,712.01 L393.01,711.45 L395.98,710.92 L398.95,710.45 L401.92,710.02 L404.90,709.66 L407.89,709.36 L410.88,709.13 L413.87,708.97 L416.87,708.88 L419.87,708.88 L422.88,708.97 L425.89,709.14 L428.91,709.41 L431.93,709.76 L434.95,710.17 L437.97,710.63 L440.99,711.12 L444.01,711.63 L447.03,712.13 L450.04,712.62 L453.05,713.07 L456.05,713.47 L459.04,713.81 L462.02,714.06 L465.00,714.30" fill="none" stroke="#f79646" stroke-width="3.90" stroke-linecap="round" stroke-linejoin="round"/>
<path d="M150.00,748.50 L153.03,748.65 L156.06,748.68 L159.09,748.71 L162.11,748.74 L165.14,748.76 L168.17,748.79 L171.20,748.81 L174.23,748.84 L177.26,748.86 L180.29,748.88 L183.32,748.91 L186.34,748.93 L189.37,748.95 L192.40,748.97 L195.43,748.98 L198.46,749.00 L201.49,749.02 L204.52,749.04 L207.55,749.05 L210.57,749.07 L213.60,749.08 L216.63,749.10 L219.66,749.11 L222.69,749.12 L225.72,749.14 L228.75,749.15 L231.78,749.16 L234.80,749.17 L237.83,749.18 L240.86,749.19 L243.89,749.20 L246.92,749.21 L249.95,749.22 L252.98,749.23 L256.01,749.24 L259.04,749.24 L262.06,749.25 L265.09,749.26 L268.12,749.27 L271.15,749.27 L274.18,749.28 L277.21,749.29 L280.24,749.29 L283.27,749.30 L286.30,749.30 L289.32,749.31 L292.35,749.32 L295.38,749.32 L298.41,749.33 L301.44,749.33 L304.47,749.34 L307.50,749.34 L310.53,749.35 L313.56,749.35 L316.58,749.36 L319.61,749.37 L322.64,749.37 L325.67,749.38 L328.70,749.38 L331.73,749.39 L334.76,749.40 L337.79,749.40 L340.82,749.41 L343.84,749.42 L346.87,749.42 L349.90,749.43 L352.93,749.44 L355.96,749.45 L358.99,749.45 L362.02,749.46 L365.05,749.47 L368.08,749.48 L371.11,749.49 L374.13,749.50 L377.16,749.51 L380.19,749.52 L383.22,749.53 L386.25,749.55 L389.28,749.56 L392.31,749.57 L395.34,749.58 L398.37,749.60 L401.39,749.61 L404.42,749.63 L407.45,749.64 L410.48,749.66 L413.51,749.68 L416.54,749.70 L419.57,749.72 L422.60,749.73 L425.62,749.75 L428.65,749.78 L431.68,749.80 L434.71,749.82 L437.74,749.84 L440.77,749.87 L443.80,749.89 L446.83,749.92 L449.86,749.95 L452.88,749.97 L455.91,750.00 L458.94,750.03 L461.97,750.06 L465.00,750.00" fill="none" stroke="#a0403c" stroke-width="3.40" stroke-linecap="round" stroke-linejoin="round"/>
<path d="M150.00,741.00 L153.03,740.37 L156.04,740.43 L159.06,740.50 L162.08,740.59 L165.10,740.67 L168.12,740.77 L171.14,740.88 L174.16,740.99 L177.18,741.10 L180.20,741.23 L183.22,741.35 L186.25,741.49 L189.27,741.62 L192.29,741.76 L195.32,741.91 L198.34,742.05 L201.36,742.20 L204.39,742.35 L207.41,742.50 L210.44,742.65 L213.47,742.81 L216.49,742.96 L219.52,743.11 L222.55,743.26 L225.57,743.40 L228.60,743.55 L231.63,743.69 L234.66,743.82 L237.69,743.96 L240.71,744.09 L243.74,744.21 L246.77,744.33 L249.80,744.45 L252.83,744.57 L255.86,744.68 L258.89,744.79 L261.92,744.89 L264.95,744.99 L267.98,745.09 L271.01,745.18 L274.04,745.27 L277.07,745.36 L280.10,745.44 L283.13,745.53 L286.17,745.60 L289.20,745.68 L292.23,745.75 L295.26,745.82 L298.29,745.89 L301.32,745.95 L304.35,746.02 L307.38,746.07 L310.41,746.13 L313.44,746.19 L316.47,746.24 L319.51,746.29 L322.54,746.34 L325.57,746.38 L328.60,746.43 L331.63,746.47 L334.66,746.51 L337.69,746.55 L340.72,746.58 L343.75,746.62 L346.79,746.66 L349.82,746.69 L352.85,746.72 L355.88,746.75 L358.91,746.78 L361.94,746.81 L364.97,746.84 L368.00,746.87 L371.03,746.90 L374.07,746.93 L377.10,746.96 L380.13,746.98 L383.16,747.01 L386.19,747.04 L389.22,747.07 L392.25,747.09 L395.28,747.12 L398.31,747.15 L401.35,747.18 L404.38,747.21 L407.41,747.24 L410.44,747.27 L413.47,747.30 L416.50,747.34 L419.53,747.37 L422.56,747.40 L425.59,747.44 L428.63,747.48 L431.66,747.52 L434.69,747.56 L437.72,747.60 L440.75,747.65 L443.78,747.69 L446.81,747.74 L449.84,747.79 L452.88,747.85 L455.91,747.90 L458.94,747.96 L461.97,748.02 L465.00,748.00" fill="none" stroke="#2f6f8f" stroke-width="3.90" stroke-linecap="round" stroke-linejoin="round"/>
<path d="M118.00,745.00 L120.95,744.52 L123.92,743.63 L126.89,742.79 L129.87,742.01 L132.85,741.28 L135.83,740.62 L138.82,740.02 L141.81,739.47 L144.80,738.99 L147.80,738.58 L150.80,738.23 L153.79,737.94 L156.79,737.73 L159.79,737.58 L162.79,737.50 L165.79,737.49 L168.79,737.55 L171.79,737.68 L174.78,737.88 L177.78,738.14 L180.78,738.45 L183.77,738.81 L186.77,739.20 L189.76,739.63 L192.76,740.09 L195.75,740.56 L198.75,741.04 L201.75,741.53 L204.74,742.01 L207.74,742.49 L210.75,742.95 L213.75,743.38 L216.75,743.79 L219.76,744.17 L222.77,744.53 L225.78,744.87 L228.79,745.18 L231.80,745.47 L234.82,745.74 L237.83,745.98 L240.85,746.21 L243.87,746.42 L246.89,746.62 L249.91,746.80 L252.93,746.96 L255.96,747.11 L258.98,747.25 L262.00,747.38 L265.03,747.49 L268.05,747.60 L271.08,747.69 L274.11,747.78 L277.13,747.86 L280.16,747.94 L283.19,748.01 L286.22,748.08 L289.25,748.14 L292.28,748.20 L295.30,748.26 L298.33,748.31 L301.36,748.37 L304.39,748.41 L307.42,748.46 L310.45,748.50 L313.48,748.54 L316.51,748.58 L319.54,748.62 L322.57,748.65 L325.60,748.68 L328.63,748.71 L331.66,748.74 L334.69,748.76 L337.73,748.79 L340.76,748.81 L343.79,748.83 L346.82,748.85 L349.85,748.87 L352.88,748.89 L355.91,748.91 L358.94,748.93 L361.97,748.95 L365.01,748.96 L368.04,748.98 L371.07,749.00 L374.10,749.01 L377.13,749.03 L380.16,749.05 L383.19,749.06 L386.22,749.08 L389.26,749.10 L392.29,749.12 L395.32,749.14 L398.35,749.16 L401.38,749.18 L404.41,749.21 L407.44,749.23 L410.47,749.26 L413.50,749.29 L416.53,749.32 L419.56,749.35 L422.59,749.39 L425.62,749.42 L428.65,749.46 L431.68,749.50 L434.71,749.55 L437.74,749.60 L440.77,749.65 L443.79,749.70 L446.82,749.75 L449.85,749.81 L452.88,749.87 L455.91,749.94 L458.93,750.01 L461.96,750.08 L465.00,750.00" fill="none" stroke="#9bbb59" stroke-width="3.90" stroke-linecap="round" stroke-linejoin="round"/>
<path d="M118.00,745.00 L119.53,742.38 L121.05,739.75 L122.56,737.12 L124.05,734.48 L125.53,731.84 L127.00,729.20 L128.45,726.55 L129.88,723.88 L131.29,721.21 L132.68,718.53 L134.04,715.84 L135.38,713.13 L136.69,710.40 L137.97,707.66 L139.22,704.91 L140.44,702.13 L141.62,699.33 L142.79,696.53 L143.96,693.72 L145.15,690.91 L146.36,688.12 L147.62,685.34 L148.94,682.59 L150.33,679.87 L151.81,677.19 L153.41,674.58 L155.19,672.13 L157.23,669.95 L159.57,668.12 L162.22,666.68 L165.07,665.61 L168.02,664.86 L170.97,664.40 L173.91,664.20 L176.83,664.26 L179.74,664.54 L182.64,665.04 L185.52,665.73 L188.38,666.60 L191.23,667.62 L194.06,668.78 L196.86,670.06 L199.65,671.45 L202.41,672.92 L205.16,674.45 L207.88,676.03 L210.57,677.64 L213.24,679.26 L215.88,680.87 L218.50,682.45 L221.09,683.99 L223.65,685.47 L226.19,686.90 L228.73,688.30 L231.27,689.69 L233.83,691.11 L236.42,692.56 L239.05,694.07 L241.74,695.56 L244.48,697.00 L247.28,698.30 L250.16,699.42 L253.11,700.29 L256.12,700.90 L259.17,701.26 L262.23,701.40 L265.28,701.35 L268.28,701.11 L271.25,700.71 L274.16,700.14 L277.04,699.44 L279.88,698.59 L282.67,697.61 L285.44,696.52 L288.17,695.32 L290.87,694.01 L293.54,692.62 L296.18,691.14 L298.80,689.60 L301.40,687.99 L303.97,686.33 L306.53,684.63 L309.07,682.89 L311.59,681.14 L314.11,679.36 L316.61,677.59 L319.10,675.81 L321.59,674.04 L324.07,672.28 L326.55,670.52 L329.03,668.77 L331.50,667.03 L333.97,665.29 L336.45,663.57 L338.93,661.85 L341.41,660.15 L343.90,658.46 L346.40,656.79 L348.91,655.13 L351.42,653.49 L353.95,651.86 L356.49,650.25 L359.05,648.66 L361.62,647.09 L364.21,645.54 L366.82,644.02 L369.45,642.51 L372.09,641.04 L374.76,639.59 L377.44,638.17 L380.14,636.78 L382.85,635.43 L385.59,634.11 L388.34,632.83 L391.11,631.59 L393.89,630.39 L396.69,629.24 L399.51,628.13 L402.34,627.06 L405.19,626.05 L408.06,625.08 L410.94,624.17 L413.84,623.32 L416.75,622.52 L419.68,621.77 L422.62,621.09 L425.58,620.46 L428.54,619.87 L431.52,619.34 L434.51,618.85 L437.50,618.39 L440.50,617.97 L443.51,617.59 L446.52,617.23 L449.53,616.90 L452.55,616.59 L455.56,616.30 L458.58,616.03 L461.59,615.77 L464.60,615.50" fill="none" stroke="#8064a2" stroke-width="3.90" stroke-linecap="round" stroke-linejoin="round"/>
<path d="M118.00,748.00 L119.24,745.03 L120.53,742.09 L121.85,739.22 L123.20,736.43 L124.56,733.69 L125.95,731.00 L127.35,728.35 L128.77,725.72 L130.19,723.10 L131.62,720.48 L133.06,717.86 L134.50,715.21 L135.95,712.53 L137.38,709.80 L138.82,707.02 L140.24,704.17 L141.65,701.24 L143.07,698.25 L144.52,695.27 L146.04,692.34 L147.66,689.54 L149.41,686.91 L151.32,684.52 L153.42,682.42 L155.76,680.68 L158.34,679.34 L161.09,678.50 L163.91,678.22 L166.67,678.60 L169.28,679.69 L171.69,681.44 L173.91,683.69 L175.95,686.29 L177.82,689.09 L179.53,691.94 L181.11,694.79 L182.61,697.62 L184.05,700.41 L185.50,703.16 L186.96,705.85 L188.45,708.50 L189.95,711.12 L191.46,713.73 L192.96,716.34 L194.47,718.97 L195.96,721.64 L197.44,724.36 L198.89,727.15 L200.34,729.98 L201.82,732.81 L203.35,735.59 L204.98,738.28 L206.74,740.83 L208.66,743.19 L210.78,745.31 L213.12,747.15 L215.71,748.67 L218.53,749.89 L221.51,750.85 L224.62,751.58 L227.78,752.14 L230.96,752.57 L234.09,752.91 L237.13,753.19 L240.00,753.50" fill="none" stroke="#f79646" stroke-width="3.90" stroke-linecap="round" stroke-linejoin="round"/>
<path d="M118.00,748.00 L120.86,746.68 L123.42,745.04 L125.81,743.19 L128.05,741.19 L130.19,739.07 L132.26,736.89 L134.30,734.67 L136.35,732.46 L138.44,730.32 L140.61,728.27 L142.90,726.36 L145.31,724.61 L147.83,723.01 L150.45,721.55 L153.14,720.22 L155.91,719.03 L158.74,717.97 L161.61,717.03 L164.52,716.21 L167.47,715.51 L170.44,714.91 L173.44,714.41 L176.46,714.01 L179.50,713.70 L182.55,713.48 L185.61,713.35 L188.67,713.29 L191.73,713.29 L194.78,713.34 L197.83,713.38 L200.86,713.40 L203.88,713.36 L206.88,713.21 L209.87,712.94 L212.83,712.53 L215.77,712.00 L218.70,711.37 L221.61,710.64 L224.51,709.82 L227.40,708.94 L230.28,708.00 L233.15,707.02 L236.03,706.01 L238.90,704.98 L241.77,703.94 L244.64,702.91 L247.52,701.91 L250.41,700.93 L253.30,700.00 L256.21,699.14 L259.12,698.34 L262.05,697.60 L264.99,696.92 L267.94,696.29 L270.90,695.71 L273.87,695.17 L276.84,694.66 L279.82,694.18 L282.80,693.73 L285.79,693.30 L288.78,692.88 L291.77,692.47 L294.77,692.06 L297.76,691.66 L300.76,691.27 L303.76,690.87 L306.76,690.48 L309.75,690.10 L312.76,689.71 L315.76,689.33 L318.76,688.95 L321.76,688.57 L324.76,688.19 L327.77,687.81 L330.77,687.44 L333.77,687.06 L336.78,686.68 L339.78,686.29 L342.78,685.91 L345.79,685.52 L348.79,685.13 L351.79,684.74 L354.79,684.34 L357.79,683.94 L360.79,683.53 L363.79,683.12 L366.79,682.71 L369.79,682.28 L372.78,681.85 L375.78,681.41 L378.77,680.97 L381.76,680.52 L384.75,680.05 L387.74,679.58 L390.73,679.10 L393.71,678.61 L396.70,678.11 L399.68,677.60 L402.66,677.08 L405.63,676.54 L408.61,676.00 L411.58,675.44 L414.55,674.87 L417.52,674.28 L420.48,673.68 L423.44,673.07 L426.40,672.44 L429.35,671.79 L432.30,671.13 L435.25,670.46 L438.20,669.76 L441.14,669.05 L444.08,668.32 L447.01,667.58 L449.94,666.81 L452.87,666.03 L455.79,665.22 L458.71,664.40 L461.62,663.56 L464.60,663.00" fill="none" stroke="#2e95b0" stroke-width="3.90" stroke-linecap="round" stroke-linejoin="round"/>
<path d="M118.20,619.20 L119.18,622.07 L120.12,624.94 L121.07,627.81 L122.03,630.69 L122.99,633.57 L123.96,636.45 L124.93,639.34 L125.91,642.22 L126.89,645.11 L127.88,647.99 L128.87,650.88 L129.87,653.76 L130.88,656.64 L131.88,659.52 L132.89,662.39 L133.91,665.26 L134.93,668.13 L135.95,670.98 L136.98,673.83 L138.01,676.67 L139.04,679.51 L140.09,682.33 L141.14,685.15 L142.20,687.97 L143.28,690.77 L144.38,693.58 L145.49,696.38 L146.63,699.17 L147.80,701.97 L149.00,704.76 L150.23,707.56 L151.49,710.35 L152.79,713.15 L154.13,715.94 L155.51,718.74 L156.95,721.54 L158.44,724.32 L160.02,727.01 L161.72,729.57 L163.57,731.94 L165.58,734.07 L167.80,735.90 L170.23,737.39 L172.87,738.56 L175.66,739.46 L178.58,740.15 L181.57,740.68 L184.61,741.09 L187.66,741.45 L190.70,741.75 L193.75,742.01 L196.79,742.23 L199.84,742.40 L202.88,742.54 L205.92,742.65 L208.96,742.73 L212.00,742.78 L215.04,742.81 L218.08,742.83 L221.13,742.82 L224.17,742.81 L227.21,742.78 L230.25,742.75 L233.29,742.72 L236.33,742.69 L239.37,742.65 L242.41,742.61 L245.45,742.57 L248.49,742.51 L251.53,742.45 L254.56,742.38 L257.60,742.29 L260.63,742.19 L263.67,742.08 L266.70,741.94 L269.73,741.79 L272.75,741.62 L275.78,741.43 L278.80,741.21 L281.82,740.97 L284.84,740.70 L287.85,740.41 L290.86,740.08 L293.87,739.73 L296.87,739.34 L299.87,738.92 L302.87,738.47 L305.86,738.00 L308.85,737.50 L311.84,736.98 L314.83,736.45 L317.82,735.90 L320.81,735.34 L323.80,734.78 L326.78,734.21 L329.77,733.64 L332.76,733.07 L335.75,732.50 L338.75,731.94 L341.74,731.39 L344.74,730.85 L347.74,730.33 L350.75,729.83 L353.75,729.34 L356.76,728.88 L359.77,728.44 L362.79,728.03 L365.80,727.65 L368.82,727.29 L371.84,726.96 L374.86,726.67 L377.88,726.41 L380.90,726.18 L383.93,725.99 L386.95,725.84 L389.97,725.74 L392.99,725.67 L396.01,725.65 L399.04,725.68 L402.05,725.76 L405.07,725.88 L408.09,726.06 L411.10,726.29 L414.12,726.58 L417.13,726.91 L420.14,727.30 L423.14,727.74 L426.15,728.21 L429.15,728.71 L432.15,729.24 L435.15,729.80 L438.14,730.37 L441.14,730.96 L444.13,731.55 L447.12,732.15 L450.10,732.74 L453.08,733.33 L456.07,733.90 L459.04,734.46 L462.02,734.99 L465.00,735.50" fill="none" stroke="#3b6196" stroke-width="3.90" stroke-linecap="round" stroke-linejoin="round"/>
<path d="M118.10,695.40 L120.64,697.18 L123.24,698.75 L125.88,700.24 L128.55,701.67 L131.24,703.05 L133.96,704.37 L136.69,705.64 L139.45,706.88 L142.22,708.08 L145.00,709.26 L147.80,710.42 L150.60,711.58 L153.42,712.73 L156.23,713.88 L159.04,715.04 L161.86,716.22 L164.67,717.41 L167.48,718.61 L170.30,719.81 L173.12,721.00 L175.94,722.17 L178.77,723.33 L181.61,724.45 L184.45,725.54 L187.31,726.59 L190.18,727.59 L193.06,728.54 L195.95,729.44 L198.85,730.29 L201.77,731.09 L204.69,731.86 L207.63,732.57 L210.57,733.25 L213.52,733.89 L216.48,734.49 L219.45,735.05 L222.42,735.58 L225.41,736.08 L228.40,736.54 L231.39,736.98 L234.39,737.38 L237.40,737.76 L240.41,738.12 L243.42,738.45 L246.44,738.75 L249.47,739.04 L252.49,739.31 L255.52,739.56 L258.55,739.80 L261.58,740.02 L264.61,740.23 L267.65,740.43 L270.68,740.62 L273.71,740.80 L276.75,740.97 L279.78,741.14 L282.82,741.29 L285.85,741.44 L288.89,741.58 L291.92,741.71 L294.96,741.83 L298.00,741.95 L301.03,742.06 L304.07,742.17 L307.11,742.27 L310.14,742.36 L313.18,742.45 L316.22,742.53 L319.26,742.61 L322.29,742.69 L325.33,742.76 L328.37,742.83 L331.41,742.90 L334.45,742.96 L337.48,743.02 L340.52,743.08 L343.56,743.13 L346.60,743.19 L349.64,743.24 L352.68,743.29 L355.71,743.35 L358.75,743.40 L361.79,743.45 L364.83,743.50 L367.87,743.55 L370.90,743.61 L373.94,743.66 L376.98,743.72 L380.02,743.78 L383.06,743.84 L386.09,743.91 L389.13,743.97 L392.17,744.04 L395.21,744.12 L398.24,744.20 L401.28,744.28 L404.32,744.37 L407.35,744.46 L410.39,744.56 L413.42,744.66 L416.46,744.77 L419.49,744.88 L422.53,745.01 L425.56,745.14 L428.60,745.27 L431.63,745.41 L434.67,745.57 L437.70,745.73 L440.73,745.89 L443.77,746.07 L446.80,746.26 L449.83,746.45 L452.86,746.66 L455.89,746.87 L458.92,747.10 L461.95,747.34 L465.00,747.30" fill="none" stroke="#943634" stroke-width="3.90" stroke-linecap="round" stroke-linejoin="round"/>
<path d="M118.20,604.30 L119.30,607.12 L120.38,609.92 L121.43,612.75 L122.45,615.59 L123.44,618.44 L124.40,621.31 L125.34,624.19 L126.26,627.09 L127.15,629.99 L128.02,632.90 L128.88,635.82 L129.72,638.75 L130.54,641.68 L131.35,644.61 L132.15,647.55 L132.95,650.48 L133.73,653.42 L134.51,656.35 L135.29,659.29 L136.07,662.21 L136.84,665.13 L137.62,668.05 L138.40,670.95 L139.19,673.85 L139.99,676.73 L140.80,679.61 L141.62,682.48 L142.46,685.34 L143.32,688.21 L144.21,691.07 L145.12,693.93 L146.06,696.79 L147.04,699.66 L148.05,702.53 L149.11,705.41 L150.21,708.29 L151.37,711.18 L152.63,714.06 L154.00,716.93 L155.51,719.77 L157.19,722.57 L159.03,725.25 L161.03,727.71 L163.17,729.85 L165.45,731.54 L167.85,732.68 L170.36,733.18 L172.95,733.01 L175.56,732.24 L178.12,730.95 L180.59,729.21 L182.97,727.13 L185.26,724.83 L187.47,722.41 L189.60,719.98 L191.66,717.60 L193.65,715.26 L195.60,712.94 L197.52,710.65 L199.42,708.36 L201.32,706.06 L203.23,703.75 L205.17,701.42 L207.14,699.08 L209.16,696.77 L211.24,694.51 L213.39,692.34 L215.61,690.28 L217.93,688.37 L220.35,686.63 L222.88,685.10 L225.53,683.80 L228.30,682.76 L231.18,681.91 L234.12,681.20 L237.11,680.57 L240.11,679.96 L243.10,679.31 L246.07,678.63 L249.03,677.92 L251.99,677.19 L254.93,676.44 L257.87,675.69 L260.81,674.93 L263.74,674.17 L266.67,673.40 L269.60,672.63 L272.53,671.86 L275.46,671.09 L278.38,670.31 L281.30,669.54 L284.23,668.76 L287.15,667.98 L290.07,667.20 L292.99,666.43 L295.90,665.65 L298.82,664.87 L301.74,664.10 L304.66,663.33 L307.58,662.55 L310.50,661.79 L313.43,661.02 L316.35,660.26 L319.27,659.50 L322.20,658.74 L325.13,657.99 L328.06,657.25 L330.99,656.51 L333.93,655.77 L336.87,655.04 L339.81,654.32 L342.76,653.60 L345.70,652.89 L348.66,652.19 L351.61,651.50 L354.57,650.81 L357.54,650.13 L360.51,649.47 L363.48,648.81 L366.46,648.16 L369.45,647.52 L372.44,646.89 L375.43,646.27 L378.43,645.68 L381.43,645.15 L384.42,644.70 L387.40,644.38 L390.36,644.21 L393.30,644.22 L396.21,644.45 L399.09,644.93 L401.94,645.68 L404.74,646.68 L407.51,647.88 L410.25,649.27 L412.94,650.78 L415.61,652.39 L418.24,654.05 L420.83,655.74 L423.39,657.43 L425.93,659.13 L428.44,660.83 L430.92,662.55 L433.38,664.27 L435.82,666.01 L438.25,667.75 L440.66,669.51 L443.06,671.29 L445.45,673.08 L447.84,674.89 L450.22,676.71 L452.60,678.55 L454.98,680.42 L457.37,682.30 L459.76,684.21 L462.16,686.13 L464.60,688.00" fill="none" stroke="#943634" stroke-width="3.90" stroke-linecap="round" stroke-linejoin="round"/>
<path d="M118.00,746.00 L121.12,745.25 L124.00,744.12 L126.61,742.66 L129.00,740.92 L131.20,738.93 L133.23,736.75 L135.13,734.41 L136.94,731.96 L138.69,729.45 L140.41,726.91 L142.12,724.36 L143.83,721.82 L145.53,719.29 L147.23,716.76 L148.93,714.24 L150.64,711.72 L152.35,709.22 L154.07,706.72 L155.80,704.23 L157.53,701.75 L159.28,699.28 L161.03,696.81 L162.78,694.35 L164.54,691.90 L166.30,689.45 L168.07,687.00 L169.84,684.55 L171.61,682.10 L173.38,679.66 L175.16,677.21 L176.93,674.76 L178.71,672.31 L180.48,669.86 L182.25,667.40 L184.02,664.93 L185.79,662.46 L187.55,659.98 L189.31,657.50 L191.07,655.00 L192.82,652.50 L194.56,649.98 L196.30,647.46 L198.04,644.93 L199.78,642.41 L201.54,639.90 L203.32,637.41 L205.12,634.94 L206.95,632.50 L208.81,630.10 L210.71,627.75 L212.66,625.45 L214.65,623.21 L216.71,621.04 L218.82,618.93 L221.00,616.91 L223.26,614.97 L225.59,613.13 L228.01,611.38 L230.51,609.73 L233.09,608.13 L235.74,606.58 L238.47,605.05 L241.25,603.56 L244.09,602.23 L246.97,601.17 L249.87,600.47 L252.79,600.22 L255.72,600.33 L258.67,600.73 L261.63,601.34 L264.60,602.08 L267.58,602.85 L270.56,603.66 L273.47,604.57 L276.28,605.68 L278.92,607.07 L281.42,608.72 L283.81,610.56 L286.14,612.51 L288.45,614.49 L290.77,616.47 L293.08,618.45 L295.40,620.44 L297.71,622.42 L300.01,624.41 L302.31,626.41 L304.59,628.41 L306.86,630.44 L309.11,632.48 L311.34,634.53 L313.55,636.61 L315.73,638.71 L317.90,640.83 L320.05,642.96 L322.18,645.11 L324.30,647.27 L326.40,649.45 L328.49,651.64 L330.57,653.84 L332.65,656.04 L334.71,658.26 L336.78,660.48 L338.83,662.70 L340.89,664.93 L342.95,667.16 L345.00,669.39 L347.06,671.62 L349.13,673.84 L351.20,676.06 L353.28,678.28 L355.37,680.49 L357.47,682.69 L359.58,684.88 L361.71,687.06 L363.86,689.22 L366.03,691.35 L368.24,693.44 L370.49,695.46 L372.80,697.41 L375.17,699.27 L377.60,701.03 L380.12,702.68 L382.72,704.19 L385.42,705.55 L388.22,706.75 L391.14,707.78 L394.13,708.68 L397.16,709.49 L400.17,710.28 L403.13,711.09 L406.03,711.89 L408.91,712.58 L411.79,713.08 L414.70,713.29 L417.64,713.21 L420.61,712.89 L423.61,712.37 L426.61,711.70 L429.62,710.92 L432.63,710.09 L435.63,709.24 L438.62,708.43 L441.58,707.70 L444.51,707.04 L447.43,706.43 L450.34,705.83 L453.25,705.22 L456.16,704.54 L459.08,703.79 L462.03,702.91 L465.00,701.90" fill="none" stroke="#5f497a" stroke-width="3.90" stroke-linecap="round" stroke-linejoin="round"/>
<path d="M118.10,603.80 L120.94,602.45 L123.68,601.14 L126.37,599.85 L129.03,598.55 L131.69,597.25 L134.38,595.92 L137.11,594.58 L139.93,593.20 L142.82,591.83 L145.77,590.54 L148.75,589.41 L151.73,588.53 L154.68,587.98 L157.57,587.83 L160.40,588.16 L163.13,588.95 L165.79,590.13 L168.36,591.63 L170.86,593.39 L173.28,595.35 L175.63,597.44 L177.91,599.59 L180.13,601.76 L182.29,603.94 L184.41,606.12 L186.52,608.33 L188.61,610.54 L190.71,612.76 L192.83,614.96 L194.98,617.11 L197.18,619.20 L199.44,621.20 L201.77,623.10 L204.19,624.87 L206.71,626.50 L209.34,627.96 L212.07,629.27 L214.87,630.47 L217.73,631.55 L220.63,632.55 L223.56,633.44 L226.52,634.17 L229.51,634.71 L232.52,635.03 L235.55,635.11 L238.59,635.01 L241.63,634.75 L244.67,634.38 L247.70,633.94 L250.71,633.47 L253.70,632.98 L256.69,632.48 L259.67,631.97 L262.65,631.45 L265.63,630.92 L268.61,630.38 L271.59,629.84 L274.57,629.29 L277.56,628.73 L280.55,628.17 L283.54,627.61 L286.53,627.04 L289.52,626.47 L292.51,625.90 L295.51,625.33 L298.50,624.76 L301.50,624.19 L304.50,623.62 L307.50,623.05 L310.50,622.49 L313.50,621.93 L316.51,621.37 L319.51,620.82 L322.52,620.28 L325.53,619.74 L328.53,619.21 L331.54,618.69 L334.55,618.17 L337.57,617.67 L340.58,617.18 L343.59,616.70 L346.61,616.23 L349.62,615.77 L352.64,615.33 L355.66,614.90 L358.68,614.49 L361.70,614.09 L364.72,613.71 L367.74,613.35 L370.76,613.01 L373.78,612.68 L376.80,612.37 L379.83,612.09 L382.85,611.82 L385.88,611.58 L388.90,611.36 L391.93,611.17 L394.96,611.00 L397.99,610.85 L401.01,610.73 L404.04,610.64 L407.07,610.57 L410.10,610.53 L413.13,610.53 L416.16,610.55 L419.19,610.60 L422.23,610.68 L425.26,610.79 L428.29,610.94 L431.32,611.12 L434.36,611.34 L437.39,611.59 L440.42,611.87 L443.45,612.20 L446.49,612.56 L449.52,612.95 L452.56,613.39 L455.59,613.87 L458.62,614.38 L461.66,614.94 L464.60,615.50" fill="none" stroke="#d9782b" stroke-width="3.90" stroke-linecap="round" stroke-linejoin="round"/>
<path d="M119.00,726.30 L119.73,723.38 L120.34,720.41 L120.97,717.44 L121.61,714.48 L122.26,711.53 L122.91,708.58 L123.58,705.64 L124.26,702.70 L124.94,699.76 L125.63,696.83 L126.32,693.90 L127.02,690.97 L127.72,688.04 L128.43,685.12 L129.14,682.20 L129.84,679.27 L130.55,676.35 L131.26,673.43 L131.96,670.50 L132.66,667.58 L133.36,664.65 L134.05,661.72 L134.74,658.79 L135.42,655.85 L136.10,652.92 L136.76,649.97 L137.42,647.03 L138.06,644.08 L138.70,641.12 L139.32,638.16 L139.94,635.20 L140.56,632.23 L141.17,629.26 L141.79,626.29 L142.40,623.33 L143.03,620.36 L143.66,617.40 L144.30,614.44 L144.95,611.48 L145.62,608.53 L146.31,605.59 L147.01,602.65 L147.74,599.72 L148.49,596.80 L149.27,593.89 L150.07,590.99 L150.91,588.10 L151.78,585.22 L152.69,582.36 L153.64,579.52 L154.62,576.69 L155.65,573.87 L156.73,571.07 L157.85,568.30 L159.03,565.54 L160.25,562.80 L161.53,560.10 L162.87,557.42 L164.27,554.77 L165.74,552.16 L167.27,549.59 L168.86,547.06 L170.53,544.57 L172.27,542.12 L174.09,539.73 L175.99,537.38 L177.96,535.09 L180.02,532.86 L182.17,530.70 L184.39,528.61 L186.70,526.62 L189.10,524.72 L191.57,522.94 L194.13,521.28 L196.77,519.76 L199.49,518.39 L202.29,517.16 L205.15,516.10 L208.06,515.21 L211.01,514.48 L213.99,513.92 L216.98,513.55 L219.97,513.35 L222.96,513.35 L225.92,513.53 L228.84,513.91 L231.72,514.49 L234.54,515.28 L237.28,516.28 L239.94,517.49 L242.51,518.91 L244.99,520.52 L247.41,522.29 L249.76,524.18 L252.08,526.17 L254.36,528.23 L256.62,530.32 L258.88,532.43 L261.15,534.51 L263.42,536.57 L265.71,538.60 L267.99,540.62 L270.29,542.61 L272.59,544.59 L274.90,546.55 L277.21,548.50 L279.53,550.43 L281.85,552.36 L284.17,554.27 L286.49,556.18 L288.82,558.08 L291.14,559.98 L293.47,561.88 L295.79,563.77 L298.11,565.67 L300.43,567.57 L302.75,569.47 L305.07,571.38 L307.38,573.30 L309.68,575.22 L311.98,577.16 L314.28,579.10 L316.58,581.04 L318.87,583.00 L321.16,584.96 L323.45,586.92 L325.74,588.88 L328.03,590.85 L330.32,592.81 L332.61,594.78 L334.90,596.75 L337.20,598.71 L339.49,600.67 L341.80,602.63 L344.10,604.59 L346.41,606.53 L348.73,608.48 L351.05,610.41 L353.38,612.34 L355.71,614.26 L358.05,616.16 L360.41,618.06 L362.76,619.95 L365.13,621.82 L367.51,623.69 L369.89,625.54 L372.28,627.38 L374.68,629.21 L377.09,631.02 L379.51,632.83 L381.93,634.62 L384.37,636.40 L386.81,638.17 L389.26,639.92 L391.72,641.66 L394.19,643.39 L396.67,645.10 L399.16,646.80 L401.66,648.48 L404.17,650.15 L406.68,651.81 L409.21,653.45 L411.75,655.07 L414.29,656.68 L416.85,658.28 L419.41,659.85 L421.99,661.42 L424.57,662.96 L427.16,664.49 L429.77,666.01 L432.38,667.50 L435.01,668.98 L437.64,670.45 L440.29,671.89 L442.95,673.32 L445.61,674.73 L448.29,676.12 L450.98,677.49 L453.67,678.85 L456.38,680.18 L459.10,681.50 L461.83,682.80 L464.60,684.00" fill="none" stroke="#77933c" stroke-width="3.90" stroke-linecap="round" stroke-linejoin="round"/>
<path d="M118.00,732.50 L120.86,733.50 L123.62,734.91 L126.39,736.26 L129.18,737.56 L131.98,738.81 L134.80,739.99 L137.63,741.12 L140.48,742.19 L143.34,743.20 L146.22,744.15 L149.11,745.03 L152.01,745.85 L154.93,746.61 L157.86,747.29 L160.81,747.91 L163.77,748.46 L166.74,748.94 L169.73,749.35 L172.73,749.69 L175.74,749.99 L178.76,750.23 L181.79,750.42 L184.82,750.58 L187.86,750.70 L190.91,750.80 L193.96,750.87 L197.01,750.93 L200.06,750.98 L203.11,751.02 L206.16,751.06 L209.21,751.10 L212.26,751.13 L215.31,751.16 L218.36,751.19 L221.41,751.21 L224.45,751.23 L227.50,751.25 L230.55,751.27 L233.60,751.28 L236.64,751.29 L239.69,751.30 L242.74,751.31 L245.78,751.31 L248.83,751.31 L251.87,751.32 L254.92,751.32 L257.96,751.32 L261.01,751.32 L264.05,751.32 L267.10,751.31 L270.14,751.31 L273.19,751.31 L276.23,751.31 L279.28,751.31 L282.32,751.31 L285.37,751.30 L288.41,751.30 L291.45,751.30 L294.50,751.31 L297.54,751.31 L300.59,751.31 L303.63,751.32 L306.68,751.33 L309.72,751.33 L312.76,751.34 L315.81,751.35 L318.85,751.36 L321.90,751.37 L324.94,751.39 L327.99,751.40 L331.03,751.41 L334.08,751.43 L337.12,751.44 L340.17,751.46 L343.21,751.47 L346.25,751.49 L349.30,751.51 L352.34,751.52 L355.39,751.54 L358.43,751.56 L361.48,751.58 L364.52,751.59 L367.57,751.61 L370.61,751.63 L373.66,751.65 L376.70,751.67 L379.75,751.69 L382.79,751.70 L385.84,751.72 L388.88,751.74 L391.92,751.76 L394.97,751.77 L398.01,751.79 L401.06,751.80 L404.10,751.82 L407.15,751.83 L410.19,751.85 L413.24,751.86 L416.28,751.88 L419.33,751.89 L422.37,751.90 L425.42,751.91 L428.46,751.92 L431.51,751.93 L434.55,751.93 L437.60,751.94 L440.64,751.95 L443.69,751.95 L446.73,751.95 L449.78,751.95 L452.82,751.95 L455.87,751.95 L458.91,751.95 L461.96,751.95 L465.00,752.00" fill="none" stroke="#8064a2" stroke-width="3.60" stroke-linecap="round" stroke-linejoin="round"/>
<path d="M118.00,736.50 L120.95,737.18 L123.83,738.25 L126.71,739.28 L129.60,740.28 L132.49,741.24 L135.39,742.16 L138.30,743.05 L141.22,743.89 L144.14,744.68 L147.07,745.44 L150.00,746.14 L152.95,746.81 L155.90,747.42 L158.86,747.98 L161.83,748.50 L164.81,748.96 L167.79,749.36 L170.78,749.72 L173.78,750.04 L176.79,750.31 L179.80,750.54 L182.82,750.74 L185.84,750.91 L188.86,751.05 L191.89,751.17 L194.92,751.27 L197.95,751.36 L200.98,751.44 L204.02,751.51 L207.05,751.57 L210.08,751.63 L213.12,751.68 L216.15,751.73 L219.18,751.77 L222.22,751.80 L225.25,751.83 L228.29,751.85 L231.32,751.87 L234.36,751.89 L237.40,751.90 L240.43,751.91 L243.47,751.91 L246.50,751.92 L249.54,751.91 L252.58,751.91 L255.61,751.91 L258.65,751.90 L261.69,751.89 L264.72,751.88 L267.76,751.87 L270.80,751.86 L273.83,751.85 L276.87,751.83 L279.91,751.82 L282.94,751.81 L285.98,751.80 L289.01,751.79 L292.05,751.79 L295.09,751.78 L298.12,751.78 L301.16,751.78 L304.19,751.78 L307.23,751.78 L310.26,751.79 L313.30,751.79 L316.33,751.80 L319.36,751.81 L322.40,751.82 L325.43,751.83 L328.47,751.85 L331.50,751.86 L334.53,751.88 L337.57,751.90 L340.60,751.91 L343.64,751.93 L346.67,751.95 L349.70,751.97 L352.74,751.99 L355.77,752.01 L358.80,752.03 L361.84,752.06 L364.87,752.08 L367.90,752.10 L370.94,752.12 L373.97,752.15 L377.00,752.17 L380.04,752.19 L383.07,752.21 L386.10,752.23 L389.14,752.25 L392.17,752.28 L395.20,752.30 L398.24,752.31 L401.27,752.33 L404.30,752.35 L407.34,752.37 L410.37,752.38 L413.41,752.40 L416.44,752.41 L419.47,752.42 L422.51,752.44 L425.54,752.45 L428.58,752.45 L431.61,752.46 L434.65,752.47 L437.68,752.47 L440.72,752.47 L443.75,752.47 L446.79,752.47 L449.83,752.46 L452.86,752.45 L455.90,752.45 L458.94,752.43 L461.97,752.42 L465.00,752.50" fill="none" stroke="#d99694" stroke-width="3.60" stroke-linecap="round" stroke-linejoin="round"/>
<path d="M118.00,740.60 L120.95,741.49 L123.93,742.18 L126.92,742.84 L129.91,743.48 L132.90,744.08 L135.90,744.66 L138.90,745.20 L141.91,745.73 L144.91,746.22 L147.92,746.69 L150.93,747.14 L153.94,747.56 L156.96,747.96 L159.98,748.33 L163.00,748.68 L166.02,749.01 L169.05,749.32 L172.07,749.61 L175.10,749.88 L178.13,750.14 L181.16,750.37 L184.20,750.58 L187.24,750.78 L190.27,750.96 L193.31,751.13 L196.35,751.28 L199.40,751.41 L202.44,751.54 L205.49,751.64 L208.53,751.74 L211.58,751.82 L214.63,751.90 L217.68,751.96 L220.73,752.01 L223.78,752.05 L226.83,752.09 L229.89,752.11 L232.94,752.13 L236.00,752.14 L239.05,752.14 L242.11,752.14 L245.16,752.14 L248.22,752.13 L251.28,752.11 L254.34,752.09 L257.39,752.07 L260.45,752.05 L263.51,752.03 L266.57,752.01 L269.62,751.98 L272.68,751.96 L275.74,751.94 L278.79,751.92 L281.85,751.90 L284.91,751.88 L287.96,751.87 L291.02,751.86 L294.07,751.85 L297.13,751.84 L300.18,751.83 L303.23,751.83 L306.29,751.82 L309.34,751.82 L312.40,751.82 L315.45,751.82 L318.50,751.82 L321.56,751.83 L324.61,751.83 L327.66,751.84 L330.71,751.84 L333.77,751.85 L336.82,751.86 L339.87,751.87 L342.92,751.88 L345.97,751.90 L349.03,751.91 L352.08,751.92 L355.13,751.94 L358.18,751.95 L361.23,751.97 L364.28,751.98 L367.33,752.00 L370.39,752.02 L373.44,752.04 L376.49,752.06 L379.54,752.07 L382.59,752.09 L385.64,752.11 L388.69,752.13 L391.74,752.15 L394.79,752.17 L397.85,752.19 L400.90,752.21 L403.95,752.23 L407.00,752.25 L410.05,752.28 L413.10,752.30 L416.15,752.32 L419.21,752.33 L422.26,752.35 L425.31,752.37 L428.36,752.39 L431.41,752.41 L434.47,752.43 L437.52,752.44 L440.57,752.46 L443.62,752.48 L446.68,752.49 L449.73,752.51 L452.78,752.52 L455.84,752.53 L458.89,752.55 L461.95,752.56 L465.00,752.50" fill="none" stroke="#948a54" stroke-width="3.60" stroke-linecap="round" stroke-linejoin="round"/>
<path d="M118.00,742.90 L120.92,744.07 L123.93,744.57 L126.94,745.04 L129.96,745.50 L132.98,745.94 L135.99,746.35 L139.01,746.75 L142.04,747.13 L145.06,747.50 L148.08,747.84 L151.11,748.17 L154.14,748.48 L157.16,748.78 L160.19,749.06 L163.22,749.32 L166.26,749.57 L169.29,749.80 L172.32,750.02 L175.36,750.23 L178.40,750.42 L181.43,750.60 L184.47,750.77 L187.51,750.92 L190.55,751.07 L193.59,751.20 L196.64,751.32 L199.68,751.43 L202.72,751.53 L205.77,751.62 L208.81,751.71 L211.86,751.78 L214.91,751.84 L217.95,751.90 L221.00,751.95 L224.05,751.99 L227.10,752.03 L230.15,752.06 L233.20,752.08 L236.25,752.10 L239.30,752.12 L242.35,752.13 L245.40,752.13 L248.45,752.13 L251.50,752.13 L254.56,752.13 L257.61,752.12 L260.66,752.11 L263.71,752.10 L266.76,752.09 L269.82,752.07 L272.87,752.06 L275.92,752.05 L278.97,752.03 L282.02,752.02 L285.08,752.01 L288.13,752.00 L291.18,751.99 L294.23,751.98 L297.28,751.97 L300.33,751.96 L303.38,751.95 L306.44,751.95 L309.49,751.94 L312.54,751.93 L315.59,751.93 L318.64,751.92 L321.69,751.92 L324.74,751.91 L327.79,751.91 L330.84,751.91 L333.89,751.91 L336.94,751.91 L339.99,751.91 L343.04,751.91 L346.09,751.91 L349.14,751.91 L352.19,751.91 L355.24,751.92 L358.29,751.92 L361.34,751.93 L364.39,751.93 L367.44,751.94 L370.49,751.95 L373.53,751.96 L376.58,751.97 L379.63,751.98 L382.68,751.99 L385.73,752.01 L388.78,752.02 L391.83,752.04 L394.88,752.05 L397.93,752.07 L400.97,752.09 L404.02,752.11 L407.07,752.13 L410.12,752.15 L413.17,752.17 L416.22,752.19 L419.26,752.22 L422.31,752.24 L425.36,752.27 L428.41,752.30 L431.46,752.33 L434.51,752.36 L437.55,752.39 L440.60,752.42 L443.65,752.46 L446.70,752.49 L449.74,752.53 L452.79,752.57 L455.84,752.61 L458.89,752.65 L461.94,752.69 L465.00,752.50" fill="none" stroke="#4bacc6" stroke-width="3.60" stroke-linecap="round" stroke-linejoin="round"/>
<path d="M118.00,745.80 L121.00,746.56 L124.03,746.82 L127.07,747.08 L130.10,747.33 L133.14,747.57 L136.18,747.80 L139.21,748.03 L142.25,748.25 L145.29,748.46 L148.33,748.66 L151.36,748.86 L154.40,749.05 L157.44,749.23 L160.48,749.41 L163.52,749.58 L166.56,749.74 L169.60,749.89 L172.64,750.04 L175.68,750.19 L178.72,750.33 L181.76,750.46 L184.80,750.58 L187.84,750.70 L190.88,750.82 L193.93,750.93 L196.97,751.03 L200.01,751.13 L203.05,751.22 L206.10,751.31 L209.14,751.39 L212.18,751.47 L215.23,751.55 L218.27,751.61 L221.31,751.68 L224.36,751.74 L227.40,751.80 L230.45,751.85 L233.49,751.90 L236.54,751.94 L239.58,751.98 L242.63,752.02 L245.67,752.05 L248.72,752.08 L251.76,752.11 L254.81,752.13 L257.85,752.15 L260.90,752.17 L263.94,752.19 L266.99,752.20 L270.04,752.21 L273.08,752.22 L276.13,752.22 L279.18,752.23 L282.22,752.23 L285.27,752.23 L288.32,752.22 L291.36,752.22 L294.41,752.21 L297.46,752.21 L300.50,752.20 L303.55,752.19 L306.60,752.17 L309.65,752.16 L312.69,752.15 L315.74,752.13 L318.79,752.12 L321.84,752.11 L324.88,752.09 L327.93,752.07 L330.98,752.06 L334.02,752.04 L337.07,752.03 L340.12,752.01 L343.17,751.99 L346.21,751.98 L349.26,751.96 L352.31,751.95 L355.36,751.94 L358.40,751.92 L361.45,751.91 L364.50,751.90 L367.54,751.89 L370.59,751.88 L373.64,751.88 L376.68,751.87 L379.73,751.87 L382.78,751.87 L385.82,751.87 L388.87,751.87 L391.92,751.88 L394.96,751.89 L398.01,751.90 L401.05,751.91 L404.10,751.92 L407.14,751.94 L410.19,751.96 L413.23,751.98 L416.28,752.01 L419.32,752.04 L422.37,752.07 L425.41,752.11 L428.46,752.15 L431.50,752.19 L434.55,752.24 L437.59,752.29 L440.63,752.35 L443.68,752.41 L446.72,752.47 L449.76,752.54 L452.81,752.62 L455.85,752.69 L458.89,752.78 L461.93,752.86 L465.00,752.50" fill="none" stroke="#e46c4a" stroke-width="3.60" stroke-linecap="round" stroke-linejoin="round"/>
<path d="M118.00,750.20 L121.08,750.40 L124.13,750.42 L127.17,750.44 L130.22,750.47 L133.27,750.49 L136.31,750.52 L139.36,750.54 L142.41,750.57 L145.46,750.60 L148.51,750.63 L151.56,750.66 L154.61,750.68 L157.66,750.71 L160.71,750.74 L163.76,750.77 L166.81,750.80 L169.86,750.83 L172.91,750.86 L175.97,750.89 L179.02,750.92 L182.07,750.95 L185.12,750.98 L188.18,751.00 L191.23,751.03 L194.28,751.05 L197.34,751.08 L200.39,751.10 L203.44,751.12 L206.50,751.14 L209.55,751.15 L212.61,751.17 L215.66,751.18 L218.71,751.19 L221.77,751.20 L224.82,751.21 L227.88,751.21 L230.93,751.22 L233.99,751.22 L237.04,751.21 L240.09,751.21 L243.15,751.20 L246.20,751.19 L249.26,751.17 L252.31,751.15 L255.37,751.13 L258.42,751.10 L261.47,751.07 L264.53,751.04 L267.58,751.00 L270.63,750.96 L273.69,750.92 L276.74,750.87 L279.79,750.82 L282.85,750.76 L285.90,750.69 L288.95,750.63 L292.00,750.55 L295.05,750.48 L298.11,750.40 L301.16,750.31 L304.21,750.21 L307.26,750.12 L310.31,750.01 L313.36,749.90 L316.41,749.79 L319.45,749.67 L322.50,749.54 L325.55,749.41 L328.60,749.27 L331.65,749.12 L334.69,748.97 L337.74,748.81 L340.78,748.65 L343.83,748.47 L346.87,748.30 L349.92,748.11 L352.96,747.92 L356.01,747.72 L359.05,747.51 L362.09,747.29 L365.13,747.07 L368.17,746.84 L371.21,746.60 L374.25,746.35 L377.29,746.10 L380.33,745.84 L383.37,745.57 L386.40,745.29 L389.44,745.00 L392.47,744.70 L395.51,744.40 L398.54,744.08 L401.57,743.76 L404.61,743.42 L407.64,743.08 L410.67,742.73 L413.70,742.37 L416.73,742.00 L419.76,741.62 L422.78,741.23 L425.81,740.83 L428.84,740.42 L431.86,740.00 L434.88,739.57 L437.91,739.13 L440.93,738.68 L443.95,738.22 L446.97,737.74 L449.99,737.26 L453.01,736.77 L456.02,736.26 L459.04,735.74 L462.05,735.21 L465.00,734.50" fill="none" stroke="#4f81bd" stroke-width="3.60" stroke-linecap="round" stroke-linejoin="round"/>
<path d="M160.00,752.30 L163.05,752.21 L166.10,752.22 L169.15,752.24 L172.20,752.25 L175.25,752.26 L178.30,752.26 L181.35,752.27 L184.40,752.28 L187.45,752.28 L190.50,752.29 L193.55,752.29 L196.60,752.29 L199.65,752.29 L202.70,752.29 L205.75,752.29 L208.80,752.28 L211.85,752.28 L214.90,752.28 L217.95,752.27 L221.00,752.26 L224.05,752.26 L227.10,752.25 L230.15,752.24 L233.20,752.23 L236.25,752.22 L239.30,752.20 L242.35,752.19 L245.40,752.18 L248.45,752.16 L251.50,752.15 L254.55,752.13 L257.60,752.12 L260.65,752.10 L263.70,752.08 L266.75,752.06 L269.80,752.04 L272.85,752.03 L275.90,752.01 L278.95,751.98 L282.00,751.96 L285.05,751.94 L288.10,751.92 L291.15,751.90 L294.20,751.87 L297.25,751.85 L300.30,751.83 L303.35,751.80 L306.40,751.78 L309.45,751.75 L312.50,751.73 L315.55,751.70 L318.60,751.67 L321.65,751.65 L324.70,751.62 L327.75,751.59 L330.80,751.57 L333.85,751.54 L336.90,751.51 L339.95,751.48 L343.00,751.46 L346.05,751.43 L349.10,751.40 L352.15,751.37 L355.20,751.35 L358.25,751.32 L361.30,751.29 L364.35,751.26 L367.40,751.23 L370.45,751.20 L373.50,751.18 L376.55,751.15 L379.60,751.12 L382.65,751.09 L385.70,751.07 L388.75,751.04 L391.80,751.01 L394.85,750.98 L397.90,750.96 L400.95,750.93 L404.00,750.90 L407.05,750.88 L410.10,750.85 L413.15,750.83 L416.20,750.80 L419.25,750.78 L422.30,750.75 L425.35,750.73 L428.40,750.71 L431.45,750.68 L434.50,750.66 L437.55,750.64 L440.60,750.62 L443.65,750.60 L446.70,750.58 L449.75,750.56 L452.80,750.54 L455.85,750.52 L458.90,750.50 L461.95,750.48 L465.00,750.50" fill="none" stroke="#c9d3dc" stroke-width="5.00" stroke-linecap="round" stroke-linejoin="round"/>
<path d="M118.00,754.30 C233.67,754.30 349.33,754.30 465.00,754.30" fill="none" stroke="#b9cde5" stroke-width="3.60" stroke-linecap="round" stroke-linejoin="round"/>
<path d="M330.00,755.80 C375.00,755.80 420.00,755.80 465.00,755.80" fill="none" stroke="#e0a8b0" stroke-width="1.60" stroke-linecap="round" stroke-linejoin="round"/>
<line x1="91.7" y1="1133.8" x2="91.7" y2="1170.5" stroke="#141414" stroke-width="1.60"/>
<line x1="87.8" y1="1133.8" x2="95.6" y2="1133.8" stroke="#141414" stroke-width="1.90"/>
<line x1="87.8" y1="1170.5" x2="95.6" y2="1170.5" stroke="#141414" stroke-width="1.90"/>
<line x1="136.1" y1="1100.8" x2="136.1" y2="1140.5" stroke="#141414" stroke-width="1.60"/>
<line x1="132.2" y1="1100.8" x2="140.0" y2="1100.8" stroke="#141414" stroke-width="1.90"/>
<line x1="132.2" y1="1140.5" x2="140.0" y2="1140.5" stroke="#141414" stroke-width="1.90"/>
<line x1="180.7" y1="1094.2" x2="180.7" y2="1131.2" stroke="#141414" stroke-width="1.60"/>
<line x1="176.8" y1="1094.2" x2="184.6" y2="1094.2" stroke="#141414" stroke-width="1.90"/>
<line x1="176.8" y1="1131.2" x2="184.6" y2="1131.2" stroke="#141414" stroke-width="1.90"/>
<line x1="225.3" y1="1066.5" x2="225.3" y2="1113.8" stroke="#141414" stroke-width="1.60"/>
<line x1="221.4" y1="1066.5" x2="229.2" y2="1066.5" stroke="#141414" stroke-width="1.90"/>
<line x1="221.4" y1="1113.8" x2="229.2" y2="1113.8" stroke="#141414" stroke-width="1.90"/>
<line x1="269.8" y1="1065.4" x2="269.8" y2="1112.5" stroke="#141414" stroke-width="1.60"/>
<line x1="265.9" y1="1065.4" x2="273.7" y2="1065.4" stroke="#141414" stroke-width="1.90"/>
<line x1="265.9" y1="1112.5" x2="273.7" y2="1112.5" stroke="#141414" stroke-width="1.90"/>
<line x1="314.5" y1="1065.8" x2="314.5" y2="1114.8" stroke="#141414" stroke-width="1.60"/>
<line x1="310.6" y1="1065.8" x2="318.4" y2="1065.8" stroke="#141414" stroke-width="1.90"/>
<line x1="310.6" y1="1114.8" x2="318.4" y2="1114.8" stroke="#141414" stroke-width="1.90"/>
<line x1="358.6" y1="1067.5" x2="358.6" y2="1116.0" stroke="#141414" stroke-width="1.60"/>
<line x1="354.7" y1="1067.5" x2="362.5" y2="1067.5" stroke="#141414" stroke-width="1.90"/>
<line x1="354.7" y1="1116.0" x2="362.5" y2="1116.0" stroke="#141414" stroke-width="1.90"/>
<line x1="403.6" y1="1088.5" x2="403.6" y2="1136.2" stroke="#141414" stroke-width="1.60"/>
<line x1="399.7" y1="1088.5" x2="407.5" y2="1088.5" stroke="#141414" stroke-width="1.90"/>
<line x1="399.7" y1="1136.2" x2="407.5" y2="1136.2" stroke="#141414" stroke-width="1.90"/>
<line x1="447.4" y1="1103.5" x2="447.4" y2="1149.0" stroke="#141414" stroke-width="1.60"/>
<line x1="443.5" y1="1103.5" x2="451.3" y2="1103.5" stroke="#141414" stroke-width="1.90"/>
<line x1="443.5" y1="1149.0" x2="451.3" y2="1149.0" stroke="#141414" stroke-width="1.90"/>
<line x1="492.6" y1="1142.6" x2="492.6" y2="1168.5" stroke="#141414" stroke-width="1.60"/>
<line x1="488.7" y1="1142.6" x2="496.5" y2="1142.6" stroke="#141414" stroke-width="1.90"/>
<line x1="488.7" y1="1168.5" x2="496.5" y2="1168.5" stroke="#141414" stroke-width="1.90"/>
<path d="M69.60,1207.30 L70.74,1204.50 L71.92,1201.74 L73.11,1198.98 L74.30,1196.22 L75.49,1193.45 L76.67,1190.68 L77.85,1187.90 L79.02,1185.12 L80.18,1182.34 L81.34,1179.55 L82.49,1176.76 L83.63,1173.96 L84.75,1171.16 L85.86,1168.35 L86.96,1165.54 L88.05,1162.72 L89.11,1159.90 L90.16,1157.07 L91.19,1154.24 L92.20,1151.40 L93.19,1148.55 L94.16,1145.69 L95.10,1142.83 L96.02,1139.96 L96.91,1137.09 L97.78,1134.21 L98.62,1131.32 L99.45,1128.43 L100.25,1125.53 L101.04,1122.62 L101.81,1119.71 L102.56,1116.80 L103.30,1113.88 L104.03,1110.96 L104.75,1108.04 L105.47,1105.11 L106.17,1102.18 L106.87,1099.25 L107.57,1096.32 L108.26,1093.39 L108.96,1090.45 L109.66,1087.52 L110.36,1084.59 L111.06,1081.66 L111.77,1078.73 L112.49,1075.80 L113.22,1072.87 L113.96,1069.94 L114.70,1067.02 L115.46,1064.10 L116.22,1061.18 L117.00,1058.26 L117.78,1055.35 L118.57,1052.44 L119.37,1049.53 L120.18,1046.62 L121.00,1043.71 L121.82,1040.81 L122.66,1037.91 L123.50,1035.01 L124.34,1032.11 L125.20,1029.21 L126.06,1026.32 L126.93,1023.43 L127.81,1020.54 L128.69,1017.66 L129.58,1014.77 L130.47,1011.89 L131.37,1009.01 L132.28,1006.14 L133.19,1003.26 L134.11,1000.39 L135.03,997.52 L135.96,994.65 L136.89,991.79 L137.83,988.93 L138.77,986.07 L139.72,983.21 L140.67,980.36 L141.63,977.50 L142.59,974.65 L143.55,971.81 L144.52,968.96 L145.49,966.12 L146.46,963.28 L147.44,960.45 L148.42,957.61 L149.41,954.78 L150.39,951.95 L151.38,949.13 L152.37,946.30 L153.37,943.48 L154.37,940.66 L155.38,937.84 L156.42,935.01 L157.47,932.18 L158.56,929.33 L159.67,926.48 L160.83,923.61 L162.02,920.73 L163.27,917.83 L164.58,914.95 L166.05,912.22 L167.79,909.81 L169.90,907.92 L172.43,906.69 L175.18,906.27 L177.86,906.79 L180.20,908.34 L182.11,910.63 L183.62,913.22 L184.80,916.00 L185.75,918.91 L186.54,921.89 L187.26,924.91 L187.96,927.92 L188.66,930.91 L189.34,933.89 L190.02,936.86 L190.68,939.82 L191.34,942.78 L192.00,945.72 L192.64,948.66 L193.27,951.60 L193.90,954.53 L194.52,957.45 L195.13,960.38 L195.73,963.30 L196.32,966.23 L196.91,969.16 L197.48,972.09 L198.05,975.02 L198.61,977.96 L199.17,980.90 L199.71,983.86 L200.25,986.82 L200.78,989.79 L201.30,992.76 L201.82,995.75 L202.33,998.74 L202.84,1001.73 L203.35,1004.73 L203.85,1007.73 L204.36,1010.74 L204.86,1013.74 L205.37,1016.74 L205.88,1019.74 L206.39,1022.73 L206.90,1025.73 L207.42,1028.71 L207.95,1031.69 L208.48,1034.66 L209.03,1037.62 L209.58,1040.58 L210.14,1043.52 L210.71,1046.44 L211.30,1049.36 L211.89,1052.27 L212.49,1055.17 L213.10,1058.06 L213.71,1060.96 L214.33,1063.86 L214.95,1066.76 L215.57,1069.67 L216.20,1072.59 L216.82,1075.52 L217.43,1078.48 L218.04,1081.45 L218.65,1084.44 L219.25,1087.45 L219.83,1090.50 L220.41,1093.57 L220.99,1096.67 L221.58,1099.78 L222.22,1102.86 L222.94,1105.89 L223.77,1108.86 L224.73,1111.72 L225.85,1114.46 L227.16,1117.05 L228.69,1119.47 L230.45,1121.70 L232.42,1123.76 L234.58,1125.67 L236.90,1127.46 L239.36,1129.13 L241.92,1130.72 L244.57,1132.25 L247.28,1133.74 L250.02,1135.21 L252.76,1136.68 L255.49,1138.18 L258.17,1139.72 L260.78,1141.33 L263.29,1143.02 L265.71,1144.80 L268.03,1146.67 L270.27,1148.61 L272.42,1150.63 L274.49,1152.72 L276.49,1154.87 L278.41,1157.09 L280.28,1159.36 L282.09,1161.68 L283.87,1164.03 L285.63,1166.43 L287.37,1168.85 L289.11,1171.30 L290.86,1173.76 L292.63,1176.23 L294.44,1178.70 L296.29,1181.17 L298.20,1183.63 L300.18,1186.07 L302.24,1188.48 L304.37,1190.81 L306.59,1193.03 L308.89,1195.11 L311.27,1197.00 L313.74,1198.67 L316.29,1200.08 L318.93,1201.19 L321.66,1201.98 L324.46,1202.46 L327.31,1202.65 L330.21,1202.55 L333.13,1202.20 L336.05,1201.60 L338.97,1200.78 L341.86,1199.74 L344.70,1198.51 L347.49,1197.10 L350.20,1195.53 L352.82,1193.82 L355.34,1191.99 L357.72,1190.04 L359.98,1188.00 L362.12,1185.87 L364.16,1183.67 L366.10,1181.41 L367.97,1179.09 L369.78,1176.73 L371.54,1174.33 L373.26,1171.90 L374.96,1169.47 L376.65,1167.03 L378.34,1164.59 L380.06,1162.17 L381.81,1159.77 L383.60,1157.40 L385.46,1155.05 L387.37,1152.71 L389.36,1150.35 L391.44,1147.97 L393.61,1145.56 L395.89,1143.16 L398.25,1140.98 L400.70,1139.22 L403.23,1138.10 L405.83,1137.83 L408.48,1138.43 L411.13,1139.73 L413.76,1141.54 L416.31,1143.68 L418.74,1145.98 L421.04,1148.27 L423.22,1150.49 L425.37,1152.63 L427.53,1154.68 L429.77,1156.62 L432.14,1158.43 L434.70,1160.11 L437.46,1161.58 L440.34,1162.72 L443.26,1163.41 L446.16,1163.53 L448.97,1162.98 L451.66,1161.84 L454.24,1160.21 L456.69,1158.22 L459.01,1155.97 L461.20,1153.59 L463.24,1151.18 L465.15,1148.80 L466.99,1146.46 L468.79,1144.13 L470.62,1141.81 L472.51,1139.49 L474.53,1137.16 L476.71,1134.80 L479.08,1132.45 L481.61,1130.33 L484.22,1128.70 L486.84,1127.82 L489.39,1127.97 L491.83,1129.17 L494.07,1131.19 L496.08,1133.77 L497.78,1136.67 L499.13,1139.64 L500.17,1142.60 L500.97,1145.55 L501.61,1148.49 L502.18,1151.42 L502.75,1154.35 L503.35,1157.28 L503.97,1160.22 L504.60,1163.15 L505.26,1166.08 L505.93,1169.02 L506.60,1171.96 L507.29,1174.89 L507.97,1177.83 L508.66,1180.77 L509.35,1183.71 L510.03,1186.65 L510.70,1189.60 L511.35,1192.54 L512.00,1195.49 L512.62,1198.44 L513.22,1201.40 L513.80,1204.35 L514.40,1207.30" fill="none" stroke="#4a7ebb" stroke-width="4.20" stroke-linecap="round" stroke-linejoin="round"/>
<path d="M69.60,1207.30 L70.36,1204.37 L71.09,1201.45 L71.84,1198.53 L72.62,1195.61 L73.41,1192.71 L74.23,1189.80 L75.06,1186.90 L75.91,1184.01 L76.77,1181.12 L77.65,1178.23 L78.54,1175.35 L79.44,1172.47 L80.35,1169.59 L81.27,1166.71 L82.20,1163.84 L83.13,1160.97 L84.07,1158.10 L85.01,1155.23 L85.96,1152.36 L86.91,1149.49 L87.86,1146.63 L88.81,1143.76 L89.75,1140.89 L90.70,1138.02 L91.64,1135.15 L92.57,1132.28 L93.50,1129.41 L94.42,1126.54 L95.33,1123.66 L96.23,1120.78 L97.12,1117.90 L97.99,1115.01 L98.86,1112.12 L99.72,1109.23 L100.57,1106.34 L101.42,1103.45 L102.28,1100.56 L103.13,1097.67 L103.99,1094.78 L104.85,1091.89 L105.72,1089.01 L106.60,1086.12 L107.50,1083.25 L108.41,1080.38 L109.34,1077.51 L110.29,1074.65 L111.27,1071.80 L112.27,1068.95 L113.29,1066.11 L114.35,1063.28 L115.43,1060.46 L116.55,1057.65 L117.71,1054.85 L118.91,1052.07 L120.14,1049.29 L121.42,1046.53 L122.75,1043.78 L124.13,1041.05 L125.60,1038.38 L127.18,1035.80 L128.92,1033.36 L130.84,1031.08 L132.99,1029.02 L135.39,1027.20 L138.07,1025.68 L140.93,1024.71 L143.85,1024.60 L146.72,1025.34 L149.50,1026.68 L152.14,1028.36 L154.59,1030.21 L156.89,1032.19 L159.04,1034.29 L161.06,1036.50 L162.98,1038.81 L164.80,1041.18 L166.54,1043.63 L168.23,1046.12 L169.88,1048.64 L171.50,1051.19 L173.09,1053.76 L174.66,1056.35 L176.20,1058.95 L177.71,1061.58 L179.20,1064.22 L180.66,1066.88 L182.10,1069.54 L183.51,1072.22 L184.90,1074.91 L186.26,1077.61 L187.60,1080.32 L188.91,1083.03 L190.21,1085.74 L191.48,1088.46 L192.73,1091.19 L193.97,1093.92 L195.20,1096.65 L196.41,1099.39 L197.62,1102.13 L198.82,1104.88 L200.01,1107.63 L201.20,1110.38 L202.40,1113.14 L203.59,1115.90 L204.79,1118.67 L206.00,1121.44 L207.22,1124.21 L208.44,1126.98 L209.68,1129.76 L210.94,1132.54 L212.21,1135.33 L213.51,1138.12 L214.83,1140.90 L216.20,1143.66 L217.66,1146.35 L219.22,1148.95 L220.94,1151.41 L222.82,1153.70 L224.92,1155.79 L227.25,1157.65 L229.86,1159.23 L232.68,1160.44 L235.56,1161.09 L238.36,1161.00 L241.04,1160.22 L243.64,1158.90 L246.18,1157.19 L248.71,1155.26 L251.26,1153.25 L253.87,1151.32 L256.56,1149.64 L259.38,1148.35 L262.30,1147.48 L265.27,1147.02 L268.25,1146.95 L271.20,1147.25 L274.05,1147.90 L276.78,1148.88 L279.35,1150.16 L281.80,1151.71 L284.17,1153.46 L286.50,1155.36 L288.84,1157.37 L291.23,1159.44 L293.67,1161.51 L296.17,1163.53 L298.73,1165.45 L301.34,1167.23 L304.00,1168.81 L306.72,1170.13 L309.48,1171.16 L312.29,1171.85 L315.15,1172.24 L318.03,1172.36 L320.95,1172.23 L323.89,1171.89 L326.86,1171.38 L329.83,1170.73 L332.81,1169.96 L335.80,1169.11 L338.78,1168.22 L341.75,1167.32 L344.71,1166.43 L347.65,1165.60 L350.56,1164.84 L353.45,1164.20 L356.33,1163.67 L359.21,1163.30 L362.09,1163.09 L364.97,1163.07 L367.87,1163.25 L370.79,1163.67 L373.74,1164.33 L376.72,1165.27 L379.74,1166.45 L382.77,1167.72 L385.80,1168.93 L388.80,1169.92 L391.75,1170.53 L394.63,1170.59 L397.43,1170.08 L400.16,1169.11 L402.82,1167.83 L405.40,1166.34 L407.92,1164.73 L410.37,1162.99 L412.75,1161.14 L415.07,1159.19 L417.32,1157.14 L419.50,1155.02 L421.62,1152.81 L423.67,1150.55 L425.65,1148.23 L427.58,1145.86 L429.43,1143.46 L431.23,1141.02 L432.96,1138.57 L434.63,1136.08 L436.24,1133.56 L437.80,1131.02 L439.30,1128.45 L440.75,1125.84 L442.15,1123.21 L443.51,1120.55 L444.81,1117.86 L446.08,1115.14 L447.30,1112.39 L448.48,1109.62 L449.63,1106.83 L450.73,1104.02 L451.81,1101.19 L452.85,1098.35 L453.86,1095.49 L454.85,1092.62 L455.80,1089.74 L456.74,1086.85 L457.65,1083.95 L458.54,1081.05 L459.41,1078.14 L460.27,1075.23 L461.11,1072.33 L461.94,1069.42 L462.76,1066.52 L463.57,1063.63 L464.38,1060.74 L465.17,1057.85 L465.96,1054.96 L466.74,1052.08 L467.51,1049.19 L468.28,1046.30 L469.04,1043.41 L469.79,1040.51 L470.54,1037.60 L471.28,1034.69 L472.01,1031.77 L472.74,1028.83 L473.46,1025.88 L474.18,1022.92 L474.89,1019.95 L475.60,1016.95 L476.33,1013.96 L477.11,1010.99 L477.95,1008.05 L478.90,1005.17 L479.98,1002.36 L481.21,999.65 L482.63,997.05 L484.25,994.58 L486.11,992.26 L488.24,990.26 L490.75,989.71 L493.33,991.15 L495.21,993.66 L496.33,996.69 L497.03,999.92 L497.59,1003.09 L498.09,1006.14 L498.52,1009.12 L498.91,1012.04 L499.25,1014.94 L499.56,1017.84 L499.84,1020.76 L500.10,1023.73 L500.34,1026.72 L500.57,1029.74 L500.81,1032.77 L501.05,1035.80 L501.30,1038.82 L501.56,1041.84 L501.83,1044.86 L502.11,1047.87 L502.39,1050.88 L502.67,1053.88 L502.96,1056.89 L503.24,1059.89 L503.51,1062.89 L503.79,1065.90 L504.05,1068.90 L504.30,1071.90 L504.55,1074.91 L504.79,1077.92 L505.02,1080.92 L505.24,1083.93 L505.46,1086.94 L505.67,1089.95 L505.88,1092.96 L506.08,1095.97 L506.28,1098.98 L506.48,1101.99 L506.67,1105.00 L506.86,1108.01 L507.04,1111.02 L507.23,1114.04 L507.41,1117.05 L507.59,1120.06 L507.77,1123.07 L507.95,1126.09 L508.13,1129.10 L508.31,1132.11 L508.49,1135.13 L508.68,1138.14 L508.86,1141.15 L509.05,1144.16 L509.25,1147.18 L509.44,1150.19 L509.64,1153.20 L509.84,1156.21 L510.05,1159.22 L510.27,1162.23 L510.49,1165.24 L510.71,1168.25 L510.95,1171.26 L511.19,1174.27 L511.44,1177.27 L511.69,1180.28 L511.96,1183.28 L512.23,1186.29 L512.52,1189.29 L512.81,1192.29 L513.12,1195.30 L513.43,1198.30 L513.76,1201.30 L514.10,1204.29 L514.40,1207.30" fill="none" stroke="#be4b48" stroke-width="4.20" stroke-linecap="round" stroke-linejoin="round"/>
<path d="M69.60,1207.30 L70.53,1204.42 L71.36,1201.51 L72.10,1198.57 L72.80,1195.61 L73.47,1192.65 L74.12,1189.68 L74.80,1186.72 L75.51,1183.77 L76.28,1180.85 L77.13,1177.95 L78.08,1175.09 L79.15,1172.27 L80.37,1169.51 L81.71,1166.79 L83.15,1164.11 L84.68,1161.48 L86.28,1158.90 L87.94,1156.37 L89.68,1153.90 L91.51,1151.50 L93.43,1149.19 L95.46,1146.98 L97.58,1144.85 L99.78,1142.78 L102.03,1140.75 L104.33,1138.75 L106.66,1136.78 L109.03,1134.85 L111.45,1132.98 L113.91,1131.19 L116.42,1129.48 L118.99,1127.87 L121.61,1126.38 L124.28,1125.01 L127.00,1123.74 L129.77,1122.58 L132.57,1121.51 L135.42,1120.53 L138.31,1119.63 L141.22,1118.82 L144.16,1118.08 L147.13,1117.41 L150.12,1116.80 L153.13,1116.25 L156.15,1115.75 L159.18,1115.29 L162.22,1114.87 L165.27,1114.48 L168.30,1114.07 L171.31,1113.62 L174.29,1113.09 L177.22,1112.47 L180.11,1111.71 L182.94,1110.78 L185.71,1109.69 L188.42,1108.46 L191.09,1107.11 L193.73,1105.65 L196.34,1104.10 L198.92,1102.49 L201.50,1100.84 L204.07,1099.19 L206.68,1097.58 L209.33,1096.08 L212.04,1094.72 L214.82,1093.51 L217.64,1092.44 L220.50,1091.49 L223.40,1090.66 L226.33,1089.94 L229.27,1089.33 L232.23,1088.81 L235.20,1088.38 L238.19,1088.04 L241.18,1087.78 L244.18,1087.58 L247.19,1087.46 L250.21,1087.39 L253.23,1087.38 L256.26,1087.42 L259.29,1087.50 L262.33,1087.61 L265.37,1087.76 L268.42,1087.93 L271.46,1088.13 L274.51,1088.33 L277.56,1088.54 L280.60,1088.76 L283.64,1088.97 L286.68,1089.17 L289.72,1089.35 L292.75,1089.52 L295.78,1089.65 L298.80,1089.77 L301.82,1089.86 L304.84,1089.92 L307.85,1089.97 L310.87,1090.01 L313.88,1090.02 L316.90,1090.03 L319.92,1090.02 L322.94,1090.00 L325.97,1089.97 L329.00,1089.94 L332.04,1089.90 L335.09,1089.86 L338.14,1089.81 L341.20,1089.77 L344.27,1089.74 L347.33,1089.77 L350.37,1089.90 L353.37,1090.16 L356.33,1090.60 L359.23,1091.26 L362.07,1092.14 L364.86,1093.19 L367.62,1094.38 L370.36,1095.63 L373.09,1096.91 L375.82,1098.21 L378.55,1099.53 L381.28,1100.85 L384.01,1102.18 L386.74,1103.51 L389.48,1104.83 L392.22,1106.14 L394.97,1107.44 L397.73,1108.71 L400.50,1109.95 L403.28,1111.17 L406.07,1112.34 L408.88,1113.49 L411.70,1114.59 L414.53,1115.68 L417.37,1116.74 L420.21,1117.78 L423.06,1118.81 L425.91,1119.84 L428.77,1120.86 L431.62,1121.89 L434.47,1122.92 L437.31,1123.98 L440.15,1125.06 L442.97,1126.16 L445.77,1127.31 L448.55,1128.50 L451.30,1129.73 L454.03,1131.03 L456.73,1132.39 L459.39,1133.81 L462.02,1135.32 L464.60,1136.90 L467.14,1138.57 L469.63,1140.31 L472.07,1142.13 L474.44,1144.03 L476.76,1146.00 L479.01,1148.03 L481.19,1150.14 L483.30,1152.31 L485.33,1154.55 L487.28,1156.84 L489.15,1159.20 L490.96,1161.60 L492.69,1164.06 L494.37,1166.57 L495.98,1169.11 L497.54,1171.70 L499.05,1174.32 L500.50,1176.98 L501.91,1179.66 L503.28,1182.37 L504.62,1185.11 L505.91,1187.86 L507.18,1190.62 L508.42,1193.40 L509.63,1196.18 L510.83,1198.97 L512.01,1201.76 L513.17,1204.55 L514.40,1207.30" fill="none" stroke="#98b954" stroke-width="4.20" stroke-linecap="round" stroke-linejoin="round"/>
<text class="r" x="275.0" y="1214.1" font-size="16.5" text-anchor="end" font-weight="normal">0</text>
<text class="r" x="275.0" y="1166.9" font-size="16.5" text-anchor="end" font-weight="normal">0,05</text>
<text class="r" x="275.0" y="1119.7" font-size="16.5" text-anchor="end" font-weight="normal">0,1</text>
<text class="r" x="275.0" y="1072.5" font-size="16.5" text-anchor="end" font-weight="normal">0,15</text>
<text class="r" x="275.0" y="1025.3" font-size="16.5" text-anchor="end" font-weight="normal">0,2</text>
<text class="r" x="275.0" y="978.1" font-size="16.5" text-anchor="end" font-weight="normal">0,25</text>
<text class="r" x="275.0" y="930.9" font-size="16.5" text-anchor="end" font-weight="normal">0,3</text>
<text class="r" x="275.0" y="883.7" font-size="16.5" text-anchor="end" font-weight="normal">0,35</text>
</svg>
</body></html>
